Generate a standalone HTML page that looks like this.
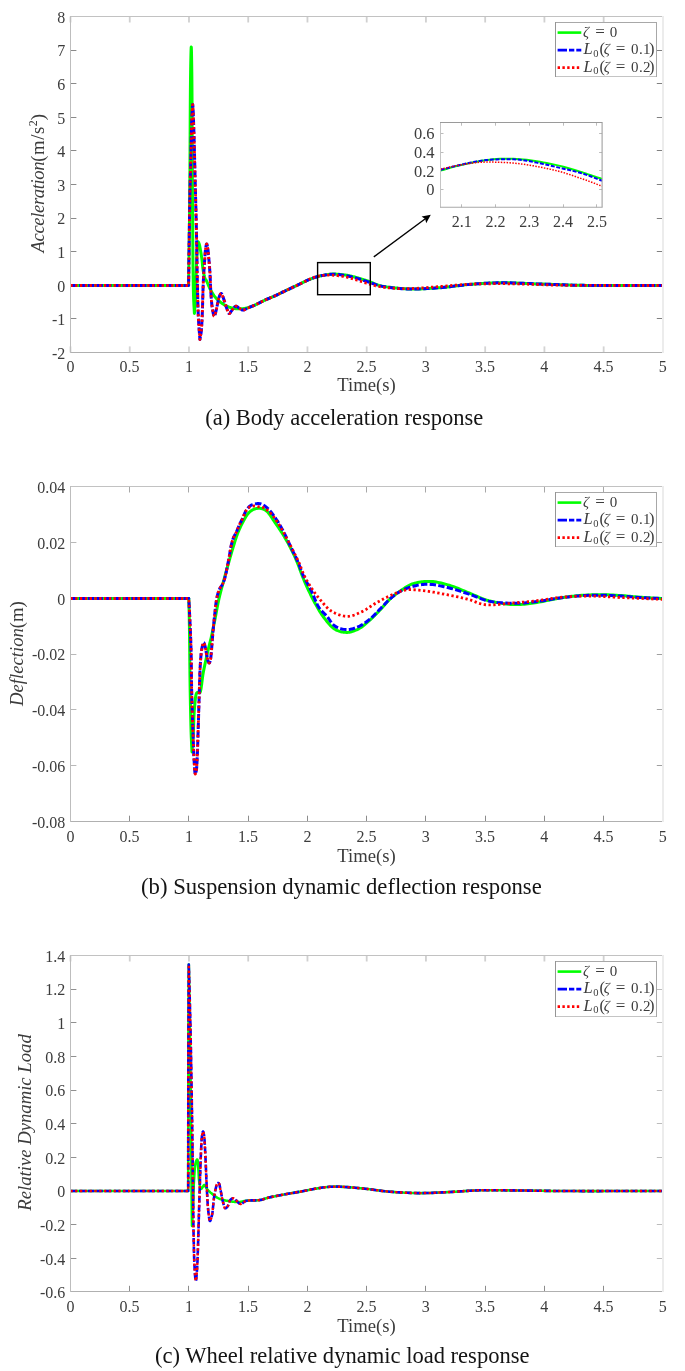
<!DOCTYPE html>
<html><head><meta charset="utf-8"><style>
html,body{margin:0;padding:0;background:#fff;width:685px;height:1371px;overflow:hidden}
svg{display:block;will-change:transform;filter:blur(0.35px)}
</style></head><body>
<svg width="685" height="1371" viewBox="0 0 685 1371">
<rect width="685" height="1371" fill="#fff"/>
<line x1="70.5" y1="346.4" x2="70.5" y2="352.4" stroke="#d4d4d4" stroke-width="1.8"/>
<line x1="70.5" y1="16.5" x2="70.5" y2="22.5" stroke="#d0d0d0" stroke-width="1.8"/>
<line x1="129.74" y1="346.4" x2="129.74" y2="352.4" stroke="#d4d4d4" stroke-width="1.8"/>
<line x1="129.74" y1="16.5" x2="129.74" y2="22.5" stroke="#d0d0d0" stroke-width="1.8"/>
<line x1="188.98" y1="346.4" x2="188.98" y2="352.4" stroke="#d4d4d4" stroke-width="1.8"/>
<line x1="188.98" y1="16.5" x2="188.98" y2="22.5" stroke="#d0d0d0" stroke-width="1.8"/>
<line x1="248.22" y1="346.4" x2="248.22" y2="352.4" stroke="#d4d4d4" stroke-width="1.8"/>
<line x1="248.22" y1="16.5" x2="248.22" y2="22.5" stroke="#d0d0d0" stroke-width="1.8"/>
<line x1="307.46" y1="346.4" x2="307.46" y2="352.4" stroke="#d4d4d4" stroke-width="1.8"/>
<line x1="307.46" y1="16.5" x2="307.46" y2="22.5" stroke="#d0d0d0" stroke-width="1.8"/>
<line x1="366.7" y1="346.4" x2="366.7" y2="352.4" stroke="#d4d4d4" stroke-width="1.8"/>
<line x1="366.7" y1="16.5" x2="366.7" y2="22.5" stroke="#d0d0d0" stroke-width="1.8"/>
<line x1="425.94" y1="346.4" x2="425.94" y2="352.4" stroke="#d4d4d4" stroke-width="1.8"/>
<line x1="425.94" y1="16.5" x2="425.94" y2="22.5" stroke="#d0d0d0" stroke-width="1.8"/>
<line x1="485.18" y1="346.4" x2="485.18" y2="352.4" stroke="#d4d4d4" stroke-width="1.8"/>
<line x1="485.18" y1="16.5" x2="485.18" y2="22.5" stroke="#d0d0d0" stroke-width="1.8"/>
<line x1="544.42" y1="346.4" x2="544.42" y2="352.4" stroke="#d4d4d4" stroke-width="1.8"/>
<line x1="544.42" y1="16.5" x2="544.42" y2="22.5" stroke="#d0d0d0" stroke-width="1.8"/>
<line x1="603.66" y1="346.4" x2="603.66" y2="352.4" stroke="#d4d4d4" stroke-width="1.8"/>
<line x1="603.66" y1="16.5" x2="603.66" y2="22.5" stroke="#d0d0d0" stroke-width="1.8"/>
<line x1="662.9" y1="346.4" x2="662.9" y2="352.4" stroke="#d4d4d4" stroke-width="1.8"/>
<line x1="662.9" y1="16.5" x2="662.9" y2="22.5" stroke="#d0d0d0" stroke-width="1.8"/>
<line x1="70.4" y1="16.5" x2="76.4" y2="16.5" stroke="#8a8a8a" stroke-width="1"/>
<line x1="656.8" y1="16.5" x2="662.8" y2="16.5" stroke="#808080" stroke-width="1"/>
<line x1="70.4" y1="50.5" x2="76.4" y2="50.5" stroke="#8a8a8a" stroke-width="1"/>
<line x1="656.8" y1="50.5" x2="662.8" y2="50.5" stroke="#808080" stroke-width="1"/>
<line x1="70.4" y1="83.5" x2="76.4" y2="83.5" stroke="#8a8a8a" stroke-width="1"/>
<line x1="656.8" y1="83.5" x2="662.8" y2="83.5" stroke="#808080" stroke-width="1"/>
<line x1="70.4" y1="117.5" x2="76.4" y2="117.5" stroke="#8a8a8a" stroke-width="1"/>
<line x1="656.8" y1="117.5" x2="662.8" y2="117.5" stroke="#808080" stroke-width="1"/>
<line x1="70.4" y1="150.5" x2="76.4" y2="150.5" stroke="#8a8a8a" stroke-width="1"/>
<line x1="656.8" y1="150.5" x2="662.8" y2="150.5" stroke="#808080" stroke-width="1"/>
<line x1="70.4" y1="184.5" x2="76.4" y2="184.5" stroke="#8a8a8a" stroke-width="1"/>
<line x1="656.8" y1="184.5" x2="662.8" y2="184.5" stroke="#808080" stroke-width="1"/>
<line x1="70.4" y1="218.5" x2="76.4" y2="218.5" stroke="#8a8a8a" stroke-width="1"/>
<line x1="656.8" y1="218.5" x2="662.8" y2="218.5" stroke="#808080" stroke-width="1"/>
<line x1="70.4" y1="251.5" x2="76.4" y2="251.5" stroke="#8a8a8a" stroke-width="1"/>
<line x1="656.8" y1="251.5" x2="662.8" y2="251.5" stroke="#808080" stroke-width="1"/>
<line x1="70.4" y1="285.5" x2="76.4" y2="285.5" stroke="#8a8a8a" stroke-width="1"/>
<line x1="656.8" y1="285.5" x2="662.8" y2="285.5" stroke="#808080" stroke-width="1"/>
<line x1="70.4" y1="318.5" x2="76.4" y2="318.5" stroke="#8a8a8a" stroke-width="1"/>
<line x1="656.8" y1="318.5" x2="662.8" y2="318.5" stroke="#808080" stroke-width="1"/>
<line x1="70.4" y1="352.5" x2="76.4" y2="352.5" stroke="#8a8a8a" stroke-width="1"/>
<line x1="656.8" y1="352.5" x2="662.8" y2="352.5" stroke="#808080" stroke-width="1"/>
<path d="M70.40 285.50 L188.60 285.50 L188.69 278.43 L188.79 271.45 L188.88 264.53 L188.98 257.64 L189.07 250.75 L189.17 243.82 L189.26 236.84 L189.36 229.77 L189.45 222.58 L189.54 215.25 L189.62 207.73 L189.70 200.00 L189.79 189.92 L189.87 179.01 L189.94 167.49 L190.01 155.57 L190.07 143.47 L190.13 131.42 L190.19 119.61 L190.26 108.28 L190.33 97.64 L190.41 87.90 L190.50 79.28 L190.60 72.00 L190.65 69.08 L190.70 66.13 L190.75 63.22 L190.81 60.38 L190.86 57.68 L190.92 55.16 L190.98 52.89 L191.04 50.91 L191.09 49.28 L191.15 48.05 L191.20 47.27 L191.25 47.00 L191.30 47.27 L191.35 48.05 L191.40 49.28 L191.45 50.91 L191.49 52.89 L191.54 55.17 L191.59 57.68 L191.63 60.38 L191.68 63.22 L191.72 66.13 L191.76 69.08 L191.80 72.00 L191.88 79.26 L191.95 87.82 L192.02 97.48 L192.07 108.03 L192.12 119.27 L192.17 131.00 L192.21 143.00 L192.26 155.07 L192.31 167.02 L192.36 178.62 L192.43 189.68 L192.50 200.00 L192.57 208.65 L192.63 217.50 L192.69 226.47 L192.75 235.44 L192.82 244.32 L192.89 252.99 L192.96 261.36 L193.05 269.31 L193.14 276.76 L193.25 283.59 L193.37 289.71 L193.50 295.00 L193.57 297.04 L193.63 298.91 L193.71 300.63 L193.78 302.23 L193.86 303.73 L193.93 305.15 L194.01 306.52 L194.09 307.87 L194.17 309.21 L194.25 310.58 L194.32 312.00 L194.40 313.50 L194.48 312.39 L194.57 311.32 L194.66 310.26 L194.74 309.21 L194.83 308.17 L194.92 307.11 L195.00 306.03 L195.09 304.93 L195.17 303.78 L195.25 302.58 L195.33 301.33 L195.40 300.00 L195.51 297.78 L195.60 295.35 L195.69 292.74 L195.78 290.00 L195.86 287.17 L195.94 284.28 L196.01 281.37 L196.09 278.49 L196.16 275.68 L196.24 272.96 L196.32 270.39 L196.40 268.00 L196.46 266.30 L196.52 264.62 L196.58 262.97 L196.64 261.36 L196.70 259.78 L196.76 258.24 L196.82 256.74 L196.88 255.29 L196.95 253.89 L197.03 252.53 L197.11 251.24 L197.20 250.00 L197.26 249.15 L197.32 248.26 L197.37 247.35 L197.43 246.44 L197.48 245.55 L197.54 244.71 L197.61 243.93 L197.68 243.24 L197.77 242.66 L197.86 242.21 L197.97 241.92 L198.10 241.80 L198.18 241.81 L198.26 241.88 L198.35 241.98 L198.44 242.13 L198.54 242.30 L198.63 242.51 L198.73 242.73 L198.83 242.98 L198.93 243.23 L199.02 243.49 L199.11 243.75 L199.20 244.00 L199.35 244.49 L199.50 245.03 L199.65 245.64 L199.79 246.28 L199.92 246.97 L200.06 247.68 L200.19 248.40 L200.32 249.14 L200.44 249.88 L200.56 250.61 L200.68 251.32 L200.80 252.00 L200.91 252.66 L201.03 253.32 L201.13 253.98 L201.24 254.64 L201.34 255.30 L201.44 255.96 L201.54 256.62 L201.63 257.28 L201.73 257.95 L201.82 258.63 L201.91 259.31 L202.00 260.00 L202.09 260.76 L202.17 261.53 L202.25 262.32 L202.32 263.11 L202.39 263.91 L202.46 264.71 L202.54 265.51 L202.61 266.30 L202.70 267.09 L202.79 267.88 L202.89 268.65 L203.00 269.40 L203.11 270.09 L203.23 270.79 L203.34 271.49 L203.46 272.18 L203.59 272.87 L203.72 273.56 L203.86 274.23 L204.01 274.88 L204.17 275.52 L204.34 276.14 L204.51 276.73 L204.70 277.30 L204.86 277.72 L205.02 278.11 L205.19 278.48 L205.36 278.83 L205.54 279.17 L205.73 279.51 L205.92 279.85 L206.11 280.19 L206.31 280.54 L206.50 280.91 L206.70 281.29 L206.90 281.70 L207.17 282.28 L207.43 282.89 L207.70 283.53 L207.98 284.19 L208.26 284.86 L208.55 285.55 L208.84 286.24 L209.13 286.94 L209.44 287.62 L209.75 288.30 L210.07 288.96 L210.40 289.60 L210.73 290.21 L211.06 290.83 L211.41 291.44 L211.75 292.04 L212.11 292.65 L212.47 293.24 L212.84 293.83 L213.21 294.41 L213.60 294.97 L213.99 295.53 L214.39 296.07 L214.80 296.60 L215.19 297.08 L215.59 297.56 L216.00 298.02 L216.41 298.47 L216.83 298.91 L217.25 299.35 L217.69 299.77 L218.13 300.19 L218.58 300.60 L219.04 301.01 L219.52 301.41 L220.00 301.80 L220.53 302.21 L221.07 302.62 L221.63 303.03 L222.20 303.43 L222.79 303.82 L223.38 304.20 L223.97 304.58 L224.58 304.93 L225.18 305.28 L225.79 305.60 L226.40 305.91 L227.00 306.20 L227.57 306.46 L228.14 306.70 L228.72 306.93 L229.30 307.14 L229.88 307.34 L230.47 307.53 L231.05 307.71 L231.64 307.87 L232.23 308.02 L232.82 308.16 L233.41 308.29 L234.00 308.40 L234.58 308.50 L235.16 308.58 L235.75 308.66 L236.33 308.72 L236.92 308.76 L237.51 308.80 L238.10 308.82 L238.68 308.84 L239.27 308.84 L239.85 308.84 L240.43 308.82 L241.00 308.80 L241.55 308.77 L242.10 308.73 L242.64 308.68 L243.18 308.62 L243.71 308.55 L244.25 308.48 L244.79 308.39 L245.32 308.29 L245.86 308.18 L246.40 308.07 L246.95 307.94 L247.50 307.80 L248.11 307.63 L248.72 307.45 L249.33 307.25 L249.94 307.04 L250.56 306.82 L251.17 306.59 L251.79 306.34 L252.42 306.09 L253.05 305.83 L253.69 305.56 L254.34 305.28 L255.00 305.00 L255.79 304.65 L256.59 304.28 L257.41 303.88 L258.24 303.47 L259.07 303.05 L259.91 302.62 L260.76 302.19 L261.61 301.76 L262.46 301.33 L263.31 300.90 L264.16 300.49 L265.00 300.10 L265.83 299.72 L266.66 299.36 L267.49 299.00 L268.33 298.64 L269.16 298.29 L270.00 297.94 L270.83 297.60 L271.67 297.25 L272.50 296.89 L273.34 296.54 L274.17 296.17 L275.00 295.80 L275.84 295.42 L276.67 295.03 L277.51 294.63 L278.34 294.23 L279.17 293.83 L280.00 293.42 L280.84 293.02 L281.67 292.61 L282.50 292.20 L283.33 291.80 L284.17 291.40 L285.00 291.00 L285.83 290.61 L286.67 290.21 L287.50 289.82 L288.33 289.43 L289.17 289.04 L290.00 288.65 L290.83 288.26 L291.67 287.87 L292.50 287.48 L293.33 287.09 L294.17 286.69 L295.00 286.30 L295.84 285.90 L296.69 285.49 L297.55 285.08 L298.41 284.66 L299.27 284.24 L300.13 283.82 L300.98 283.41 L301.82 283.00 L302.64 282.61 L303.45 282.22 L304.24 281.85 L305.00 281.50 L305.59 281.23 L306.16 280.96 L306.72 280.70 L307.26 280.45 L307.79 280.20 L308.32 279.96 L308.85 279.73 L309.38 279.50 L309.91 279.27 L310.46 279.04 L311.02 278.82 L311.60 278.60 L312.25 278.36 L312.91 278.12 L313.57 277.88 L314.24 277.65 L314.92 277.42 L315.61 277.20 L316.31 276.99 L317.02 276.77 L317.74 276.57 L318.48 276.37 L319.23 276.18 L320.00 276.00 L320.95 275.79 L321.94 275.57 L322.96 275.36 L324.00 275.16 L325.06 274.97 L326.13 274.79 L327.22 274.62 L328.30 274.47 L329.39 274.34 L330.47 274.24 L331.54 274.16 L332.60 274.10 L333.64 274.07 L334.70 274.07 L335.76 274.10 L336.82 274.15 L337.89 274.21 L338.95 274.29 L340.00 274.39 L341.04 274.50 L342.06 274.62 L343.07 274.74 L344.05 274.87 L345.00 275.00 L345.78 275.11 L346.52 275.23 L347.24 275.35 L347.95 275.48 L348.64 275.62 L349.33 275.76 L350.02 275.91 L350.72 276.07 L351.43 276.24 L352.16 276.41 L352.91 276.60 L353.70 276.80 L354.76 277.07 L355.86 277.37 L357.00 277.68 L358.17 278.02 L359.36 278.37 L360.57 278.73 L361.78 279.09 L362.99 279.47 L364.20 279.85 L365.39 280.24 L366.56 280.62 L367.70 281.00 L368.75 281.37 L369.77 281.76 L370.76 282.16 L371.74 282.57 L372.72 282.98 L373.70 283.39 L374.68 283.80 L375.68 284.20 L376.71 284.58 L377.76 284.95 L378.86 285.29 L380.00 285.60 L381.49 285.95 L383.06 286.28 L384.70 286.58 L386.38 286.86 L388.10 287.11 L389.85 287.34 L391.60 287.56 L393.35 287.75 L395.07 287.93 L396.77 288.10 L398.41 288.26 L400.00 288.40 L401.31 288.51 L402.58 288.61 L403.81 288.70 L405.01 288.78 L406.20 288.84 L407.39 288.89 L408.59 288.93 L409.80 288.97 L411.03 288.99 L412.30 289.00 L413.62 289.00 L415.00 289.00 L416.85 288.98 L418.77 288.94 L420.75 288.88 L422.78 288.80 L424.85 288.71 L426.97 288.60 L429.11 288.48 L431.27 288.34 L433.45 288.19 L435.63 288.04 L437.82 287.87 L440.00 287.70 L442.41 287.49 L444.84 287.24 L447.31 286.97 L449.80 286.68 L452.31 286.38 L454.83 286.07 L457.36 285.75 L459.90 285.45 L462.43 285.15 L464.97 284.87 L467.49 284.62 L470.00 284.40 L472.48 284.20 L474.95 284.01 L477.39 283.82 L479.83 283.65 L482.28 283.49 L484.73 283.34 L487.19 283.21 L489.68 283.09 L492.19 282.99 L494.75 282.91 L497.35 282.84 L500.00 282.80 L503.13 282.79 L506.33 282.81 L509.60 282.87 L512.91 282.95 L516.26 283.06 L519.64 283.19 L523.04 283.33 L526.45 283.47 L529.87 283.62 L533.27 283.76 L536.65 283.89 L540.00 284.00 L543.33 284.11 L546.67 284.22 L550.00 284.34 L553.33 284.47 L556.67 284.59 L560.00 284.71 L563.33 284.83 L566.67 284.94 L570.00 285.05 L573.33 285.15 L576.67 285.23 L580.00 285.30 L583.33 285.36 L586.65 285.40 L589.97 285.43 L593.28 285.46 L596.60 285.47 L599.91 285.48 L603.24 285.49 L606.57 285.49 L609.90 285.49 L613.25 285.49 L616.62 285.49 L620.00 285.50 L623.52 285.51 L627.05 285.51 L630.60 285.51 L634.16 285.52 L637.73 285.51 L641.31 285.51 L644.89 285.51 L648.48 285.51 L652.07 285.50 L655.65 285.50 L659.23 285.50 L662.80 285.50" fill="none" stroke="#00ff00" stroke-width="3.00" stroke-linejoin="round"/>
<path d="M70.40 285.50 L188.60 285.50 L188.65 281.72 L188.70 277.94 L188.75 274.18 L188.79 270.41 L188.84 266.65 L188.89 262.88 L188.94 259.11 L188.99 255.33 L189.04 251.53 L189.09 247.71 L189.14 243.87 L189.20 240.00 L189.26 235.88 L189.32 231.66 L189.38 227.37 L189.44 223.04 L189.51 218.69 L189.57 214.35 L189.64 210.05 L189.71 205.81 L189.78 201.66 L189.85 197.63 L189.92 193.73 L190.00 190.00 L190.06 187.24 L190.12 184.58 L190.19 182.01 L190.26 179.50 L190.32 177.05 L190.39 174.64 L190.46 172.25 L190.53 169.86 L190.60 167.45 L190.67 165.02 L190.73 162.54 L190.80 160.00 L190.87 157.22 L190.93 154.37 L190.99 151.47 L191.05 148.53 L191.10 145.59 L191.16 142.64 L191.22 139.72 L191.29 136.83 L191.36 134.00 L191.43 131.24 L191.51 128.57 L191.60 126.00 L191.68 123.91 L191.76 121.65 L191.85 119.30 L191.94 116.91 L192.03 114.57 L192.13 112.32 L192.23 110.23 L192.32 108.38 L192.42 106.82 L192.52 105.63 L192.61 104.87 L192.70 104.60 L192.79 104.90 L192.89 105.75 L192.98 107.09 L193.08 108.83 L193.17 110.92 L193.27 113.27 L193.36 115.82 L193.45 118.49 L193.54 121.22 L193.63 123.92 L193.72 126.54 L193.80 129.00 L193.91 132.31 L194.02 135.78 L194.12 139.39 L194.22 143.11 L194.32 146.93 L194.42 150.84 L194.51 154.81 L194.61 158.83 L194.70 162.87 L194.80 166.93 L194.90 170.98 L195.00 175.00 L195.11 179.42 L195.23 183.91 L195.35 188.47 L195.48 193.07 L195.60 197.70 L195.72 202.36 L195.85 207.02 L195.96 211.68 L196.08 216.32 L196.19 220.93 L196.30 225.49 L196.40 230.00 L196.49 234.27 L196.57 238.55 L196.65 242.83 L196.72 247.10 L196.79 251.35 L196.85 255.58 L196.92 259.77 L196.99 263.93 L197.06 268.04 L197.13 272.09 L197.21 276.08 L197.30 280.00 L197.38 283.38 L197.45 286.76 L197.53 290.12 L197.61 293.45 L197.69 296.75 L197.77 300.00 L197.85 303.19 L197.95 306.32 L198.05 309.38 L198.15 312.35 L198.27 315.23 L198.40 318.00 L198.50 320.01 L198.62 321.94 L198.73 323.80 L198.86 325.62 L198.98 327.39 L199.11 329.13 L199.25 330.85 L199.38 332.56 L199.51 334.27 L199.64 335.99 L199.77 337.73 L199.90 339.50 L200.01 338.88 L200.12 338.28 L200.24 337.68 L200.35 337.09 L200.47 336.50 L200.58 335.90 L200.70 335.29 L200.81 334.68 L200.91 334.04 L201.01 333.39 L201.11 332.71 L201.20 332.00 L201.31 331.01 L201.41 330.00 L201.50 328.97 L201.58 327.91 L201.65 326.83 L201.72 325.70 L201.78 324.54 L201.84 323.34 L201.90 322.09 L201.97 320.78 L202.03 319.42 L202.10 318.00 L202.21 315.45 L202.32 312.60 L202.43 309.52 L202.53 306.26 L202.63 302.87 L202.73 299.41 L202.83 295.92 L202.93 292.46 L203.04 289.08 L203.15 285.85 L203.27 282.80 L203.40 280.00 L203.50 278.09 L203.60 276.24 L203.70 274.43 L203.81 272.67 L203.92 270.96 L204.03 269.28 L204.14 267.65 L204.26 266.05 L204.37 264.49 L204.48 262.96 L204.59 261.47 L204.70 260.00 L204.78 258.87 L204.86 257.75 L204.93 256.63 L205.00 255.53 L205.07 254.45 L205.14 253.40 L205.22 252.38 L205.30 251.40 L205.39 250.47 L205.48 249.59 L205.59 248.76 L205.70 248.00 L205.77 247.56 L205.85 247.11 L205.93 246.66 L206.01 246.21 L206.09 245.77 L206.18 245.36 L206.27 244.99 L206.36 244.66 L206.44 244.39 L206.53 244.18 L206.62 244.05 L206.70 244.00 L206.78 244.05 L206.87 244.19 L206.96 244.40 L207.04 244.68 L207.13 245.02 L207.22 245.41 L207.30 245.82 L207.39 246.26 L207.47 246.71 L207.55 247.15 L207.63 247.59 L207.70 248.00 L207.80 248.57 L207.88 249.17 L207.97 249.79 L208.04 250.43 L208.12 251.09 L208.19 251.77 L208.25 252.47 L208.32 253.19 L208.39 253.94 L208.45 254.70 L208.53 255.49 L208.60 256.30 L208.71 257.53 L208.83 258.84 L208.96 260.22 L209.08 261.65 L209.21 263.13 L209.33 264.64 L209.45 266.18 L209.57 267.73 L209.69 269.27 L209.80 270.81 L209.90 272.32 L210.00 273.80 L210.09 275.26 L210.16 276.72 L210.22 278.18 L210.28 279.65 L210.34 281.11 L210.39 282.58 L210.44 284.04 L210.50 285.50 L210.56 286.96 L210.63 288.41 L210.71 289.86 L210.80 291.30 L210.90 292.73 L210.99 294.18 L211.09 295.64 L211.19 297.12 L211.30 298.59 L211.41 300.05 L211.53 301.48 L211.66 302.89 L211.80 304.25 L211.95 305.56 L212.12 306.82 L212.30 308.00 L212.44 308.85 L212.59 309.75 L212.74 310.67 L212.90 311.60 L213.07 312.50 L213.24 313.37 L213.42 314.16 L213.60 314.86 L213.77 315.45 L213.95 315.90 L214.13 316.19 L214.30 316.30 L214.44 316.24 L214.58 316.05 L214.72 315.76 L214.87 315.37 L215.01 314.92 L215.16 314.40 L215.30 313.84 L215.45 313.26 L215.59 312.67 L215.73 312.08 L215.87 311.52 L216.00 311.00 L216.16 310.37 L216.32 309.72 L216.47 309.04 L216.62 308.34 L216.77 307.63 L216.92 306.91 L217.06 306.19 L217.21 305.47 L217.35 304.76 L217.50 304.05 L217.65 303.37 L217.80 302.70 L217.94 302.10 L218.07 301.50 L218.19 300.89 L218.32 300.28 L218.44 299.68 L218.57 299.08 L218.70 298.50 L218.84 297.94 L218.99 297.41 L219.15 296.90 L219.32 296.43 L219.50 296.00 L219.63 295.72 L219.77 295.43 L219.92 295.14 L220.07 294.85 L220.23 294.58 L220.38 294.32 L220.54 294.09 L220.70 293.88 L220.86 293.72 L221.01 293.59 L221.16 293.52 L221.30 293.50 L221.45 293.55 L221.60 293.69 L221.75 293.88 L221.90 294.14 L222.04 294.44 L222.18 294.77 L222.32 295.13 L222.46 295.51 L222.59 295.90 L222.73 296.28 L222.86 296.65 L223.00 297.00 L223.17 297.42 L223.33 297.86 L223.49 298.31 L223.65 298.78 L223.80 299.25 L223.96 299.74 L224.11 300.23 L224.27 300.72 L224.42 301.22 L224.58 301.72 L224.74 302.21 L224.90 302.70 L225.07 303.22 L225.24 303.74 L225.41 304.28 L225.58 304.82 L225.75 305.36 L225.92 305.90 L226.09 306.44 L226.26 306.97 L226.44 307.50 L226.62 308.01 L226.81 308.51 L227.00 309.00 L227.17 309.44 L227.34 309.92 L227.52 310.41 L227.70 310.91 L227.88 311.41 L228.06 311.89 L228.25 312.34 L228.43 312.73 L228.62 313.07 L228.81 313.34 L229.01 313.52 L229.20 313.60 L229.34 313.59 L229.49 313.52 L229.64 313.40 L229.79 313.25 L229.94 313.06 L230.10 312.85 L230.25 312.62 L230.40 312.38 L230.55 312.14 L230.70 311.91 L230.85 311.69 L231.00 311.50 L231.14 311.32 L231.28 311.14 L231.42 310.96 L231.55 310.78 L231.68 310.60 L231.81 310.42 L231.95 310.24 L232.09 310.05 L232.23 309.87 L232.38 309.68 L232.53 309.49 L232.70 309.30 L232.92 309.04 L233.15 308.74 L233.39 308.43 L233.64 308.10 L233.89 307.77 L234.16 307.44 L234.42 307.14 L234.70 306.86 L234.97 306.61 L235.25 306.41 L235.52 306.27 L235.80 306.20 L236.05 306.19 L236.31 306.24 L236.57 306.34 L236.83 306.47 L237.09 306.63 L237.36 306.82 L237.63 307.02 L237.90 307.23 L238.17 307.44 L238.45 307.64 L238.72 307.83 L239.00 308.00 L239.30 308.18 L239.61 308.38 L239.91 308.60 L240.22 308.83 L240.53 309.05 L240.85 309.27 L241.16 309.48 L241.48 309.67 L241.81 309.83 L242.13 309.96 L242.46 310.05 L242.80 310.10 L243.17 310.10 L243.54 310.04 L243.91 309.94 L244.28 309.81 L244.66 309.64 L245.04 309.46 L245.43 309.25 L245.83 309.03 L246.24 308.82 L246.65 308.60 L247.07 308.39 L247.50 308.20 L248.06 307.97 L248.64 307.73 L249.23 307.48 L249.84 307.23 L250.45 306.98 L251.08 306.71 L251.72 306.44 L252.36 306.17 L253.02 305.89 L253.67 305.60 L254.34 305.30 L255.00 305.00 L255.79 304.63 L256.59 304.25 L257.40 303.85 L258.23 303.44 L259.07 303.02 L259.91 302.59 L260.76 302.17 L261.61 301.74 L262.46 301.32 L263.31 300.90 L264.16 300.49 L265.00 300.10 L265.83 299.72 L266.66 299.36 L267.49 299.00 L268.33 298.64 L269.16 298.29 L270.00 297.94 L270.83 297.60 L271.67 297.25 L272.50 296.89 L273.34 296.54 L274.17 296.17 L275.00 295.80 L275.84 295.42 L276.67 295.03 L277.51 294.63 L278.34 294.23 L279.17 293.83 L280.00 293.42 L280.84 293.02 L281.67 292.61 L282.50 292.20 L283.33 291.80 L284.17 291.40 L285.00 291.00 L285.83 290.61 L286.67 290.21 L287.50 289.82 L288.33 289.43 L289.17 289.04 L290.00 288.65 L290.83 288.26 L291.67 287.87 L292.50 287.48 L293.33 287.09 L294.17 286.69 L295.00 286.30 L295.84 285.90 L296.69 285.49 L297.55 285.08 L298.41 284.66 L299.27 284.24 L300.13 283.82 L300.98 283.41 L301.82 283.00 L302.64 282.61 L303.45 282.22 L304.24 281.85 L305.00 281.50 L305.59 281.23 L306.16 280.96 L306.72 280.70 L307.26 280.45 L307.79 280.20 L308.32 279.96 L308.85 279.73 L309.38 279.50 L309.91 279.27 L310.46 279.04 L311.02 278.82 L311.60 278.60 L312.25 278.36 L312.91 278.12 L313.57 277.88 L314.24 277.65 L314.92 277.42 L315.61 277.20 L316.31 276.98 L317.02 276.77 L317.74 276.56 L318.48 276.37 L319.23 276.18 L320.00 276.00 L320.95 275.79 L321.94 275.58 L322.96 275.37 L324.00 275.18 L325.06 274.99 L326.13 274.81 L327.22 274.65 L328.30 274.51 L329.39 274.40 L330.47 274.30 L331.54 274.24 L332.60 274.20 L333.64 274.20 L334.70 274.23 L335.76 274.29 L336.82 274.37 L337.89 274.47 L338.95 274.59 L340.00 274.73 L341.04 274.88 L342.06 275.03 L343.07 275.19 L344.05 275.35 L345.00 275.50 L345.78 275.63 L346.52 275.76 L347.24 275.89 L347.95 276.03 L348.64 276.18 L349.33 276.32 L350.02 276.48 L350.72 276.65 L351.43 276.82 L352.16 277.00 L352.91 277.19 L353.70 277.40 L354.76 277.68 L355.86 277.99 L357.00 278.33 L358.17 278.68 L359.36 279.04 L360.56 279.42 L361.77 279.80 L362.99 280.18 L364.19 280.57 L365.38 280.96 L366.56 281.33 L367.70 281.70 L368.74 282.05 L369.76 282.40 L370.76 282.76 L371.74 283.12 L372.72 283.49 L373.70 283.85 L374.68 284.21 L375.69 284.55 L376.71 284.89 L377.77 285.21 L378.86 285.52 L380.00 285.80 L381.49 286.13 L383.07 286.44 L384.70 286.74 L386.39 287.02 L388.11 287.28 L389.85 287.52 L391.60 287.74 L393.35 287.95 L395.08 288.14 L396.77 288.31 L398.41 288.46 L400.00 288.60 L401.31 288.70 L402.58 288.79 L403.81 288.86 L405.01 288.92 L406.20 288.96 L407.39 288.99 L408.59 289.01 L409.80 289.03 L411.03 289.03 L412.30 289.03 L413.62 289.02 L415.00 289.00 L416.85 288.97 L418.77 288.92 L420.75 288.86 L422.78 288.78 L424.86 288.69 L426.97 288.58 L429.11 288.46 L431.27 288.33 L433.45 288.19 L435.63 288.03 L437.82 287.87 L440.00 287.70 L442.41 287.49 L444.84 287.24 L447.31 286.97 L449.80 286.68 L452.31 286.38 L454.83 286.07 L457.36 285.75 L459.90 285.45 L462.43 285.15 L464.97 284.87 L467.49 284.62 L470.00 284.40 L472.48 284.20 L474.95 284.01 L477.39 283.82 L479.83 283.65 L482.28 283.49 L484.73 283.34 L487.19 283.21 L489.68 283.09 L492.19 282.99 L494.75 282.91 L497.35 282.84 L500.00 282.80 L503.13 282.79 L506.33 282.81 L509.60 282.87 L512.91 282.95 L516.26 283.06 L519.64 283.19 L523.04 283.33 L526.45 283.47 L529.87 283.62 L533.27 283.76 L536.65 283.89 L540.00 284.00 L543.33 284.11 L546.67 284.22 L550.00 284.34 L553.33 284.47 L556.67 284.59 L560.00 284.71 L563.33 284.83 L566.67 284.94 L570.00 285.05 L573.33 285.15 L576.67 285.23 L580.00 285.30 L583.33 285.36 L586.65 285.40 L589.97 285.43 L593.28 285.46 L596.60 285.47 L599.91 285.48 L603.24 285.49 L606.57 285.49 L609.90 285.49 L613.25 285.49 L616.62 285.49 L620.00 285.50 L623.52 285.51 L627.05 285.51 L630.60 285.51 L634.16 285.52 L637.73 285.51 L641.31 285.51 L644.89 285.51 L648.48 285.51 L652.07 285.50 L655.65 285.50 L659.23 285.50 L662.80 285.50" fill="none" stroke="#0000ff" stroke-width="3.00" stroke-dasharray="6.4 2.3" stroke-linejoin="round"/>
<path d="M70.40 285.50 L188.60 285.50 L188.65 281.72 L188.70 277.94 L188.75 274.18 L188.79 270.41 L188.84 266.65 L188.89 262.88 L188.94 259.11 L188.99 255.33 L189.04 251.53 L189.09 247.71 L189.14 243.87 L189.20 240.00 L189.26 235.88 L189.32 231.66 L189.38 227.37 L189.44 223.04 L189.51 218.69 L189.57 214.35 L189.64 210.05 L189.71 205.81 L189.78 201.66 L189.85 197.63 L189.92 193.73 L190.00 190.00 L190.06 187.24 L190.12 184.58 L190.19 182.01 L190.26 179.50 L190.32 177.05 L190.39 174.64 L190.46 172.25 L190.53 169.86 L190.60 167.45 L190.67 165.02 L190.73 162.54 L190.80 160.00 L190.87 157.22 L190.93 154.37 L190.99 151.47 L191.05 148.53 L191.10 145.59 L191.16 142.64 L191.22 139.72 L191.29 136.83 L191.36 134.00 L191.43 131.24 L191.51 128.57 L191.60 126.00 L191.68 123.91 L191.76 121.65 L191.85 119.30 L191.94 116.91 L192.03 114.57 L192.13 112.32 L192.23 110.23 L192.32 108.38 L192.42 106.82 L192.52 105.63 L192.61 104.87 L192.70 104.60 L192.79 104.90 L192.89 105.75 L192.98 107.09 L193.08 108.83 L193.17 110.92 L193.27 113.27 L193.36 115.82 L193.45 118.49 L193.54 121.22 L193.63 123.92 L193.72 126.54 L193.80 129.00 L193.91 132.31 L194.02 135.78 L194.12 139.39 L194.22 143.11 L194.32 146.93 L194.42 150.84 L194.51 154.81 L194.61 158.83 L194.70 162.87 L194.80 166.93 L194.90 170.98 L195.00 175.00 L195.11 179.42 L195.23 183.91 L195.35 188.47 L195.48 193.07 L195.60 197.70 L195.72 202.36 L195.85 207.02 L195.96 211.68 L196.08 216.32 L196.19 220.93 L196.30 225.49 L196.40 230.00 L196.49 234.27 L196.57 238.55 L196.65 242.83 L196.72 247.10 L196.79 251.35 L196.85 255.58 L196.92 259.77 L196.99 263.93 L197.06 268.04 L197.13 272.09 L197.21 276.08 L197.30 280.00 L197.38 283.38 L197.45 286.76 L197.53 290.12 L197.61 293.45 L197.69 296.75 L197.77 300.00 L197.85 303.19 L197.95 306.32 L198.05 309.38 L198.15 312.35 L198.27 315.23 L198.40 318.00 L198.50 320.01 L198.62 321.94 L198.73 323.80 L198.86 325.62 L198.98 327.39 L199.11 329.13 L199.25 330.85 L199.38 332.56 L199.51 334.27 L199.64 335.99 L199.77 337.73 L199.90 339.50 L200.01 338.88 L200.12 338.28 L200.24 337.68 L200.35 337.09 L200.47 336.50 L200.58 335.90 L200.70 335.29 L200.81 334.68 L200.91 334.04 L201.01 333.39 L201.11 332.71 L201.20 332.00 L201.31 331.01 L201.41 330.00 L201.50 328.97 L201.58 327.91 L201.65 326.83 L201.72 325.70 L201.78 324.54 L201.84 323.34 L201.90 322.09 L201.97 320.78 L202.03 319.42 L202.10 318.00 L202.21 315.45 L202.32 312.60 L202.43 309.52 L202.53 306.26 L202.63 302.87 L202.73 299.41 L202.83 295.92 L202.93 292.46 L203.04 289.08 L203.15 285.85 L203.27 282.80 L203.40 280.00 L203.50 278.09 L203.60 276.24 L203.70 274.43 L203.81 272.67 L203.92 270.96 L204.03 269.28 L204.14 267.65 L204.26 266.05 L204.37 264.49 L204.48 262.96 L204.59 261.47 L204.70 260.00 L204.78 258.87 L204.86 257.75 L204.93 256.63 L205.00 255.53 L205.07 254.45 L205.14 253.40 L205.22 252.38 L205.30 251.40 L205.39 250.47 L205.48 249.59 L205.59 248.76 L205.70 248.00 L205.77 247.56 L205.85 247.11 L205.93 246.66 L206.01 246.21 L206.09 245.77 L206.18 245.36 L206.27 244.99 L206.36 244.66 L206.44 244.39 L206.53 244.18 L206.62 244.05 L206.70 244.00 L206.78 244.05 L206.87 244.19 L206.96 244.40 L207.04 244.68 L207.13 245.02 L207.22 245.41 L207.30 245.82 L207.39 246.26 L207.47 246.71 L207.55 247.15 L207.63 247.59 L207.70 248.00 L207.80 248.57 L207.88 249.17 L207.97 249.79 L208.04 250.43 L208.12 251.09 L208.19 251.77 L208.25 252.47 L208.32 253.19 L208.39 253.94 L208.45 254.70 L208.53 255.49 L208.60 256.30 L208.71 257.53 L208.83 258.84 L208.96 260.22 L209.08 261.65 L209.21 263.13 L209.33 264.64 L209.45 266.18 L209.57 267.73 L209.69 269.27 L209.80 270.81 L209.90 272.32 L210.00 273.80 L210.09 275.26 L210.16 276.72 L210.22 278.18 L210.28 279.65 L210.34 281.11 L210.39 282.58 L210.44 284.04 L210.50 285.50 L210.56 286.96 L210.63 288.41 L210.71 289.86 L210.80 291.30 L210.90 292.73 L210.99 294.18 L211.09 295.64 L211.19 297.12 L211.30 298.59 L211.41 300.05 L211.53 301.48 L211.66 302.89 L211.80 304.25 L211.95 305.56 L212.12 306.82 L212.30 308.00 L212.44 308.85 L212.59 309.75 L212.74 310.67 L212.90 311.60 L213.07 312.50 L213.24 313.37 L213.42 314.16 L213.60 314.86 L213.77 315.45 L213.95 315.90 L214.13 316.19 L214.30 316.30 L214.44 316.24 L214.58 316.05 L214.72 315.76 L214.87 315.37 L215.01 314.92 L215.16 314.40 L215.30 313.84 L215.45 313.26 L215.59 312.67 L215.73 312.08 L215.87 311.52 L216.00 311.00 L216.16 310.37 L216.32 309.72 L216.47 309.04 L216.62 308.34 L216.77 307.63 L216.92 306.91 L217.06 306.19 L217.21 305.47 L217.35 304.76 L217.50 304.05 L217.65 303.37 L217.80 302.70 L217.94 302.10 L218.07 301.50 L218.19 300.89 L218.32 300.28 L218.44 299.68 L218.57 299.08 L218.70 298.50 L218.84 297.94 L218.99 297.41 L219.15 296.90 L219.32 296.43 L219.50 296.00 L219.63 295.72 L219.77 295.43 L219.92 295.14 L220.07 294.85 L220.23 294.58 L220.38 294.32 L220.54 294.09 L220.70 293.88 L220.86 293.72 L221.01 293.59 L221.16 293.52 L221.30 293.50 L221.45 293.55 L221.60 293.69 L221.75 293.88 L221.90 294.14 L222.04 294.44 L222.18 294.77 L222.32 295.13 L222.46 295.51 L222.59 295.90 L222.73 296.28 L222.86 296.65 L223.00 297.00 L223.17 297.42 L223.33 297.86 L223.49 298.31 L223.65 298.78 L223.80 299.25 L223.96 299.74 L224.11 300.23 L224.27 300.72 L224.42 301.22 L224.58 301.72 L224.74 302.21 L224.90 302.70 L225.07 303.22 L225.24 303.74 L225.41 304.28 L225.58 304.82 L225.75 305.36 L225.92 305.90 L226.09 306.44 L226.26 306.97 L226.44 307.50 L226.62 308.01 L226.81 308.51 L227.00 309.00 L227.17 309.44 L227.34 309.92 L227.52 310.41 L227.70 310.91 L227.88 311.41 L228.06 311.89 L228.25 312.34 L228.43 312.73 L228.62 313.07 L228.81 313.34 L229.01 313.52 L229.20 313.60 L229.34 313.59 L229.49 313.52 L229.64 313.40 L229.79 313.25 L229.94 313.06 L230.10 312.85 L230.25 312.62 L230.40 312.38 L230.55 312.14 L230.70 311.91 L230.85 311.69 L231.00 311.50 L231.14 311.32 L231.28 311.14 L231.42 310.96 L231.55 310.78 L231.68 310.60 L231.81 310.42 L231.95 310.24 L232.09 310.05 L232.23 309.87 L232.38 309.68 L232.53 309.49 L232.70 309.30 L232.92 309.04 L233.15 308.74 L233.39 308.43 L233.64 308.10 L233.89 307.77 L234.16 307.44 L234.42 307.14 L234.70 306.86 L234.97 306.61 L235.25 306.41 L235.52 306.27 L235.80 306.20 L236.05 306.19 L236.31 306.24 L236.57 306.34 L236.83 306.47 L237.09 306.63 L237.36 306.82 L237.63 307.02 L237.90 307.23 L238.17 307.44 L238.45 307.64 L238.72 307.83 L239.00 308.00 L239.30 308.18 L239.61 308.38 L239.91 308.60 L240.22 308.83 L240.53 309.05 L240.85 309.27 L241.16 309.48 L241.48 309.67 L241.81 309.83 L242.13 309.96 L242.46 310.05 L242.80 310.10 L243.17 310.10 L243.54 310.04 L243.91 309.94 L244.28 309.81 L244.66 309.64 L245.04 309.46 L245.43 309.25 L245.83 309.03 L246.24 308.82 L246.65 308.60 L247.07 308.39 L247.50 308.20 L248.06 307.97 L248.64 307.73 L249.23 307.48 L249.84 307.23 L250.45 306.98 L251.08 306.71 L251.72 306.44 L252.36 306.17 L253.02 305.89 L253.67 305.60 L254.34 305.30 L255.00 305.00 L255.79 304.63 L256.59 304.25 L257.40 303.85 L258.23 303.44 L259.07 303.02 L259.91 302.59 L260.76 302.17 L261.61 301.74 L262.46 301.32 L263.31 300.90 L264.16 300.49 L265.00 300.10 L265.83 299.72 L266.66 299.36 L267.49 299.00 L268.33 298.64 L269.16 298.29 L270.00 297.94 L270.83 297.60 L271.67 297.25 L272.50 296.89 L273.34 296.54 L274.17 296.17 L275.00 295.80 L275.84 295.42 L276.67 295.03 L277.51 294.63 L278.34 294.23 L279.17 293.83 L280.00 293.42 L280.84 293.02 L281.67 292.61 L282.50 292.20 L283.33 291.80 L284.17 291.40 L285.00 291.00 L285.83 290.61 L286.67 290.21 L287.50 289.82 L288.33 289.43 L289.17 289.04 L290.00 288.65 L290.83 288.26 L291.67 287.87 L292.50 287.48 L293.33 287.09 L294.17 286.69 L295.00 286.30 L295.84 285.90 L296.69 285.50 L297.55 285.09 L298.41 284.68 L299.27 284.26 L300.13 283.85 L300.98 283.45 L301.82 283.04 L302.65 282.64 L303.46 282.25 L304.24 281.87 L305.00 281.50 L305.60 281.20 L306.18 280.90 L306.74 280.61 L307.29 280.31 L307.83 280.03 L308.36 279.74 L308.89 279.46 L309.42 279.19 L309.95 278.93 L310.49 278.67 L311.04 278.43 L311.60 278.20 L312.17 277.98 L312.74 277.77 L313.32 277.56 L313.90 277.37 L314.48 277.18 L315.07 277.00 L315.65 276.83 L316.24 276.67 L316.83 276.51 L317.42 276.37 L318.01 276.23 L318.60 276.10 L319.18 275.98 L319.76 275.87 L320.34 275.77 L320.92 275.68 L321.51 275.60 L322.09 275.52 L322.68 275.45 L323.26 275.39 L323.85 275.33 L324.43 275.28 L325.02 275.24 L325.60 275.20 L326.18 275.17 L326.77 275.14 L327.35 275.12 L327.93 275.11 L328.52 275.10 L329.10 275.10 L329.68 275.11 L330.27 275.12 L330.85 275.13 L331.43 275.15 L332.02 275.17 L332.60 275.20 L333.18 275.23 L333.77 275.27 L334.35 275.31 L334.94 275.36 L335.52 275.42 L336.10 275.48 L336.69 275.54 L337.27 275.60 L337.85 275.67 L338.44 275.75 L339.02 275.82 L339.60 275.90 L340.18 275.98 L340.77 276.06 L341.35 276.15 L341.94 276.24 L342.52 276.33 L343.10 276.42 L343.69 276.52 L344.27 276.63 L344.85 276.74 L345.44 276.85 L346.02 276.97 L346.60 277.10 L347.19 277.24 L347.79 277.39 L348.38 277.54 L348.97 277.70 L349.56 277.87 L350.16 278.04 L350.75 278.21 L351.34 278.39 L351.93 278.57 L352.52 278.75 L353.11 278.92 L353.70 279.10 L354.29 279.28 L354.87 279.45 L355.46 279.63 L356.04 279.81 L356.62 280.00 L357.21 280.18 L357.79 280.37 L358.37 280.55 L358.95 280.74 L359.54 280.93 L360.12 281.11 L360.70 281.30 L361.28 281.49 L361.84 281.68 L362.40 281.87 L362.96 282.06 L363.51 282.25 L364.07 282.44 L364.64 282.63 L365.22 282.83 L365.81 283.02 L366.41 283.21 L367.04 283.41 L367.70 283.60 L368.59 283.86 L369.51 284.13 L370.45 284.40 L371.42 284.68 L372.41 284.96 L373.43 285.23 L374.47 285.50 L375.53 285.77 L376.62 286.02 L377.72 286.26 L378.85 286.49 L380.00 286.70 L381.50 286.94 L383.07 287.17 L384.71 287.39 L386.40 287.58 L388.12 287.77 L389.86 287.93 L391.61 288.08 L393.36 288.22 L395.08 288.34 L396.77 288.44 L398.42 288.53 L400.00 288.60 L401.31 288.65 L402.58 288.68 L403.81 288.70 L405.02 288.70 L406.21 288.69 L407.40 288.68 L408.59 288.65 L409.80 288.61 L411.03 288.57 L412.31 288.52 L413.62 288.46 L415.00 288.40 L416.85 288.31 L418.77 288.19 L420.75 288.06 L422.78 287.91 L424.85 287.75 L426.96 287.58 L429.10 287.40 L431.26 287.22 L433.44 287.03 L435.63 286.85 L437.82 286.67 L440.00 286.50 L442.40 286.31 L444.84 286.11 L447.31 285.90 L449.80 285.68 L452.30 285.47 L454.83 285.25 L457.36 285.04 L459.90 284.84 L462.43 284.65 L464.97 284.48 L467.49 284.33 L470.00 284.20 L472.52 284.09 L475.07 284.00 L477.64 283.93 L480.22 283.86 L482.80 283.82 L485.38 283.78 L487.93 283.75 L490.45 283.73 L492.93 283.72 L495.35 283.71 L497.71 283.70 L500.00 283.70 L501.79 283.70 L503.49 283.71 L505.12 283.72 L506.71 283.74 L508.27 283.76 L509.82 283.78 L511.39 283.81 L512.97 283.84 L514.61 283.88 L516.32 283.92 L518.11 283.96 L520.00 284.00 L522.83 284.07 L525.78 284.16 L528.85 284.26 L532.02 284.36 L535.28 284.48 L538.64 284.60 L542.06 284.71 L545.56 284.83 L549.11 284.94 L552.71 285.04 L556.34 285.13 L560.00 285.20 L564.61 285.27 L569.41 285.33 L574.38 285.37 L579.48 285.41 L584.65 285.43 L589.87 285.45 L595.10 285.46 L600.30 285.47 L605.43 285.48 L610.44 285.48 L615.32 285.49 L620.00 285.50 L623.82 285.51 L627.55 285.51 L631.21 285.52 L634.80 285.52 L638.34 285.52 L641.85 285.51 L645.33 285.51 L648.80 285.51 L652.27 285.51 L655.75 285.50 L659.26 285.50 L662.80 285.50" fill="none" stroke="#ff0000" stroke-width="2.80" stroke-dasharray="2.3 2.5" stroke-linejoin="round"/>
<rect x="70" y="16" width="593" height="1" fill="#c2c2c2"/>
<rect x="70" y="352" width="593" height="1" fill="#b0b0b0"/>
<rect x="70" y="16" width="1" height="337" fill="#bdbdbd"/>
<rect x="662" y="16" width="2" height="337" fill="#ececec"/>
<text x="65.3" y="22.8" text-anchor="end" style="font-family:'Liberation Serif',serif;font-size:16px;fill:#3c3c3c">8</text>
<text x="65.3" y="56.4" text-anchor="end" style="font-family:'Liberation Serif',serif;font-size:16px;fill:#3c3c3c">7</text>
<text x="65.3" y="90.0" text-anchor="end" style="font-family:'Liberation Serif',serif;font-size:16px;fill:#3c3c3c">6</text>
<text x="65.3" y="123.6" text-anchor="end" style="font-family:'Liberation Serif',serif;font-size:16px;fill:#3c3c3c">5</text>
<text x="65.3" y="157.2" text-anchor="end" style="font-family:'Liberation Serif',serif;font-size:16px;fill:#3c3c3c">4</text>
<text x="65.3" y="190.8" text-anchor="end" style="font-family:'Liberation Serif',serif;font-size:16px;fill:#3c3c3c">3</text>
<text x="65.3" y="224.3" text-anchor="end" style="font-family:'Liberation Serif',serif;font-size:16px;fill:#3c3c3c">2</text>
<text x="65.3" y="257.9" text-anchor="end" style="font-family:'Liberation Serif',serif;font-size:16px;fill:#3c3c3c">1</text>
<text x="65.3" y="291.5" text-anchor="end" style="font-family:'Liberation Serif',serif;font-size:16px;fill:#3c3c3c">0</text>
<text x="65.3" y="325.1" text-anchor="end" style="font-family:'Liberation Serif',serif;font-size:16px;fill:#3c3c3c">-1</text>
<text x="65.3" y="358.7" text-anchor="end" style="font-family:'Liberation Serif',serif;font-size:16px;fill:#3c3c3c">-2</text>
<text x="70.4" y="372.3" text-anchor="middle" style="font-family:'Liberation Serif',serif;font-size:16px;fill:#3c3c3c">0</text>
<text x="129.6" y="372.3" text-anchor="middle" style="font-family:'Liberation Serif',serif;font-size:16px;fill:#3c3c3c">0.5</text>
<text x="188.9" y="372.3" text-anchor="middle" style="font-family:'Liberation Serif',serif;font-size:16px;fill:#3c3c3c">1</text>
<text x="248.1" y="372.3" text-anchor="middle" style="font-family:'Liberation Serif',serif;font-size:16px;fill:#3c3c3c">1.5</text>
<text x="307.4" y="372.3" text-anchor="middle" style="font-family:'Liberation Serif',serif;font-size:16px;fill:#3c3c3c">2</text>
<text x="366.6" y="372.3" text-anchor="middle" style="font-family:'Liberation Serif',serif;font-size:16px;fill:#3c3c3c">2.5</text>
<text x="425.8" y="372.3" text-anchor="middle" style="font-family:'Liberation Serif',serif;font-size:16px;fill:#3c3c3c">3</text>
<text x="485.1" y="372.3" text-anchor="middle" style="font-family:'Liberation Serif',serif;font-size:16px;fill:#3c3c3c">3.5</text>
<text x="544.3" y="372.3" text-anchor="middle" style="font-family:'Liberation Serif',serif;font-size:16px;fill:#3c3c3c">4</text>
<text x="603.6" y="372.3" text-anchor="middle" style="font-family:'Liberation Serif',serif;font-size:16px;fill:#3c3c3c">4.5</text>
<text x="662.8" y="372.3" text-anchor="middle" style="font-family:'Liberation Serif',serif;font-size:16px;fill:#3c3c3c">5</text>
<text x="366.6" y="390.9" text-anchor="middle" style="font-family:'Liberation Serif',serif;font-size:18.7px;fill:#3c3c3c">Time(s)</text>
<rect x="555" y="22" width="102" height="55" fill="#fff"/>
<rect x="555" y="22" width="102" height="1" fill="#a8a8a8"/>
<rect x="555" y="76" width="102" height="1" fill="#c4c4c4"/>
<rect x="555" y="22" width="1" height="55" fill="#959595"/>
<rect x="656" y="22" width="1" height="55" fill="#a8a8a8"/>
<line x1="557.6" y1="32.6" x2="581.3" y2="32.6" stroke="#00ff00" stroke-width="2.6"/>
<line x1="557.6" y1="50.1" x2="581.3" y2="50.1" stroke="#0000ff" stroke-width="2.6" stroke-dasharray="9.4 2 5.3 2"/>
<line x1="557.6" y1="67.6" x2="581.3" y2="67.6" stroke="#ff0000" stroke-width="2.6" stroke-dasharray="2.4 2.4"/>
<text y="36.6" style="font-family:'Liberation Serif',serif;font-size:15px;fill:#3c3c3c"><tspan x="583" font-style="italic">ζ</tspan><tspan x="595.3" font-size="17px">=</tspan><tspan x="609.8" letter-spacing="0.7">0</tspan></text>
<text y="54.1" style="font-family:'Liberation Serif',serif;font-size:15px;fill:#3c3c3c"><tspan x="583.6" font-style="italic" font-size="16.5px">L</tspan><tspan x="593.3" font-size="10.5px" dy="2.5">0</tspan><tspan x="599.4" dy="-2.5" font-size="16.5px">(</tspan><tspan x="603.8" font-style="italic">ζ</tspan><tspan x="615.8" font-size="17px">=</tspan><tspan x="631" letter-spacing="0.4">0.1</tspan><tspan x="649" font-size="16.5px">)</tspan></text>
<text y="71.6" style="font-family:'Liberation Serif',serif;font-size:15px;fill:#3c3c3c"><tspan x="583.6" font-style="italic" font-size="16.5px">L</tspan><tspan x="593.3" font-size="10.5px" dy="2.5">0</tspan><tspan x="599.4" dy="-2.5" font-size="16.5px">(</tspan><tspan x="603.8" font-style="italic">ζ</tspan><tspan x="615.8" font-size="17px">=</tspan><tspan x="631" letter-spacing="0.4">0.2</tspan><tspan x="649" font-size="16.5px">)</tspan></text>
<line x1="70.5" y1="815.7" x2="70.5" y2="821.7" stroke="#8c8c8c" stroke-width="1.0"/>
<line x1="70.5" y1="486.5" x2="70.5" y2="492.5" stroke="#a8a8a8" stroke-width="1.0"/>
<line x1="129.5" y1="815.7" x2="129.5" y2="821.7" stroke="#8c8c8c" stroke-width="1.0"/>
<line x1="129.5" y1="486.5" x2="129.5" y2="492.5" stroke="#a8a8a8" stroke-width="1.0"/>
<line x1="188.5" y1="815.7" x2="188.5" y2="821.7" stroke="#8c8c8c" stroke-width="1.0"/>
<line x1="188.5" y1="486.5" x2="188.5" y2="492.5" stroke="#a8a8a8" stroke-width="1.0"/>
<line x1="248.5" y1="815.7" x2="248.5" y2="821.7" stroke="#8c8c8c" stroke-width="1.0"/>
<line x1="248.5" y1="486.5" x2="248.5" y2="492.5" stroke="#a8a8a8" stroke-width="1.0"/>
<line x1="307.5" y1="815.7" x2="307.5" y2="821.7" stroke="#8c8c8c" stroke-width="1.0"/>
<line x1="307.5" y1="486.5" x2="307.5" y2="492.5" stroke="#a8a8a8" stroke-width="1.0"/>
<line x1="366.5" y1="815.7" x2="366.5" y2="821.7" stroke="#8c8c8c" stroke-width="1.0"/>
<line x1="366.5" y1="486.5" x2="366.5" y2="492.5" stroke="#a8a8a8" stroke-width="1.0"/>
<line x1="425.5" y1="815.7" x2="425.5" y2="821.7" stroke="#8c8c8c" stroke-width="1.0"/>
<line x1="425.5" y1="486.5" x2="425.5" y2="492.5" stroke="#a8a8a8" stroke-width="1.0"/>
<line x1="485.5" y1="815.7" x2="485.5" y2="821.7" stroke="#8c8c8c" stroke-width="1.0"/>
<line x1="485.5" y1="486.5" x2="485.5" y2="492.5" stroke="#a8a8a8" stroke-width="1.0"/>
<line x1="544.5" y1="815.7" x2="544.5" y2="821.7" stroke="#8c8c8c" stroke-width="1.0"/>
<line x1="544.5" y1="486.5" x2="544.5" y2="492.5" stroke="#a8a8a8" stroke-width="1.0"/>
<line x1="603.5" y1="815.7" x2="603.5" y2="821.7" stroke="#8c8c8c" stroke-width="1.0"/>
<line x1="603.5" y1="486.5" x2="603.5" y2="492.5" stroke="#a8a8a8" stroke-width="1.0"/>
<line x1="662.5" y1="815.7" x2="662.5" y2="821.7" stroke="#8c8c8c" stroke-width="1.0"/>
<line x1="662.5" y1="486.5" x2="662.5" y2="492.5" stroke="#a8a8a8" stroke-width="1.0"/>
<line x1="70.4" y1="486.5" x2="76.4" y2="486.5" stroke="#b8b8b8" stroke-width="1"/>
<line x1="656.8" y1="486.5" x2="662.8" y2="486.5" stroke="#a0a0a0" stroke-width="1"/>
<line x1="70.4" y1="542.5" x2="76.4" y2="542.5" stroke="#b8b8b8" stroke-width="1"/>
<line x1="656.8" y1="542.5" x2="662.8" y2="542.5" stroke="#a0a0a0" stroke-width="1"/>
<line x1="70.4" y1="598.5" x2="76.4" y2="598.5" stroke="#b8b8b8" stroke-width="1"/>
<line x1="656.8" y1="598.5" x2="662.8" y2="598.5" stroke="#a0a0a0" stroke-width="1"/>
<line x1="70.4" y1="654.5" x2="76.4" y2="654.5" stroke="#b8b8b8" stroke-width="1"/>
<line x1="656.8" y1="654.5" x2="662.8" y2="654.5" stroke="#a0a0a0" stroke-width="1"/>
<line x1="70.4" y1="709.5" x2="76.4" y2="709.5" stroke="#b8b8b8" stroke-width="1"/>
<line x1="656.8" y1="709.5" x2="662.8" y2="709.5" stroke="#a0a0a0" stroke-width="1"/>
<line x1="70.4" y1="765.5" x2="76.4" y2="765.5" stroke="#b8b8b8" stroke-width="1"/>
<line x1="656.8" y1="765.5" x2="662.8" y2="765.5" stroke="#a0a0a0" stroke-width="1"/>
<line x1="70.4" y1="821.5" x2="76.4" y2="821.5" stroke="#b8b8b8" stroke-width="1"/>
<line x1="656.8" y1="821.5" x2="662.8" y2="821.5" stroke="#a0a0a0" stroke-width="1"/>
<path d="M70.40 598.50 L188.80 598.50 L188.84 600.25 L188.88 601.94 L188.93 603.58 L188.97 605.20 L189.01 606.82 L189.05 608.46 L189.09 610.15 L189.13 611.90 L189.18 613.74 L189.22 615.69 L189.26 617.77 L189.30 620.00 L189.37 624.59 L189.45 629.79 L189.52 635.51 L189.58 641.62 L189.65 648.03 L189.72 654.62 L189.79 661.30 L189.87 667.95 L189.94 674.48 L190.02 680.76 L190.11 686.71 L190.20 692.20 L190.27 696.22 L190.35 700.20 L190.42 704.14 L190.50 708.01 L190.58 711.81 L190.66 715.51 L190.75 719.11 L190.83 722.58 L190.92 725.93 L191.01 729.12 L191.10 732.15 L191.20 735.00 L191.26 736.69 L191.33 738.28 L191.39 739.79 L191.46 741.24 L191.52 742.63 L191.59 743.98 L191.66 745.31 L191.73 746.62 L191.80 747.93 L191.87 749.26 L191.93 750.61 L192.00 752.00 L192.10 750.60 L192.20 749.22 L192.30 747.85 L192.40 746.49 L192.50 745.13 L192.61 743.77 L192.71 742.39 L192.81 740.98 L192.91 739.55 L193.01 738.08 L193.10 736.57 L193.20 735.00 L193.32 732.87 L193.42 730.60 L193.51 728.22 L193.60 725.76 L193.69 723.25 L193.78 720.72 L193.88 718.20 L193.99 715.72 L194.11 713.32 L194.25 711.00 L194.41 708.82 L194.60 706.80 L194.74 705.41 L194.87 703.99 L194.99 702.55 L195.12 701.13 L195.26 699.74 L195.40 698.41 L195.57 697.16 L195.75 696.02 L195.96 694.99 L196.20 694.12 L196.48 693.41 L196.80 692.90 L196.93 692.76 L197.06 692.65 L197.20 692.56 L197.34 692.48 L197.49 692.42 L197.64 692.37 L197.79 692.33 L197.94 692.31 L198.09 692.30 L198.23 692.29 L198.37 692.29 L198.50 692.30 L198.61 692.32 L198.72 692.37 L198.82 692.43 L198.92 692.51 L199.02 692.60 L199.12 692.68 L199.22 692.76 L199.32 692.84 L199.41 692.89 L199.51 692.92 L199.60 692.93 L199.70 692.90 L200.07 692.46 L200.41 691.57 L200.72 690.29 L201.02 688.69 L201.31 686.82 L201.59 684.76 L201.87 682.57 L202.15 680.30 L202.44 678.03 L202.74 675.81 L203.06 673.71 L203.40 671.80 L203.79 669.86 L204.19 667.87 L204.62 665.84 L205.05 663.78 L205.50 661.72 L205.95 659.66 L206.40 657.63 L206.84 655.64 L207.28 653.71 L207.70 651.85 L208.11 650.07 L208.50 648.40 L208.76 647.29 L209.02 646.24 L209.27 645.25 L209.51 644.29 L209.75 643.36 L209.98 642.45 L210.22 641.54 L210.45 640.63 L210.69 639.70 L210.92 638.74 L211.16 637.75 L211.40 636.70 L211.70 635.37 L211.99 634.01 L212.29 632.61 L212.59 631.19 L212.89 629.74 L213.19 628.27 L213.49 626.79 L213.79 625.29 L214.09 623.77 L214.39 622.25 L214.69 620.73 L215.00 619.20 L215.33 617.51 L215.66 615.80 L215.99 614.06 L216.31 612.31 L216.64 610.54 L216.97 608.76 L217.30 606.98 L217.64 605.20 L217.99 603.43 L218.35 601.67 L218.72 599.92 L219.10 598.20 L219.49 596.55 L219.88 594.91 L220.29 593.27 L220.71 591.65 L221.14 590.02 L221.57 588.41 L222.01 586.80 L222.45 585.19 L222.89 583.59 L223.33 581.99 L223.77 580.39 L224.20 578.80 L224.62 577.24 L225.05 575.66 L225.48 574.08 L225.92 572.49 L226.36 570.91 L226.79 569.33 L227.22 567.78 L227.65 566.24 L228.08 564.73 L228.49 563.25 L228.90 561.80 L229.30 560.40 L229.62 559.29 L229.92 558.22 L230.22 557.17 L230.52 556.15 L230.81 555.14 L231.09 554.15 L231.38 553.16 L231.67 552.17 L231.97 551.18 L232.27 550.17 L232.58 549.15 L232.90 548.10 L233.25 546.94 L233.61 545.75 L233.97 544.55 L234.34 543.33 L234.71 542.11 L235.09 540.89 L235.47 539.67 L235.86 538.45 L236.26 537.26 L236.66 536.08 L237.08 534.92 L237.50 533.80 L237.89 532.80 L238.28 531.82 L238.68 530.86 L239.09 529.90 L239.50 528.96 L239.92 528.02 L240.34 527.10 L240.77 526.19 L241.22 525.28 L241.67 524.38 L242.13 523.49 L242.60 522.60 L243.06 521.74 L243.54 520.86 L244.02 519.97 L244.51 519.08 L245.01 518.20 L245.52 517.34 L246.03 516.49 L246.55 515.68 L247.08 514.91 L247.62 514.18 L248.16 513.51 L248.70 512.90 L249.11 512.49 L249.51 512.09 L249.93 511.73 L250.34 511.38 L250.76 511.05 L251.19 510.75 L251.61 510.46 L252.04 510.19 L252.48 509.95 L252.91 509.71 L253.36 509.50 L253.80 509.30 L254.21 509.13 L254.63 508.99 L255.06 508.85 L255.49 508.74 L255.92 508.63 L256.36 508.55 L256.79 508.47 L257.22 508.41 L257.65 508.37 L258.08 508.33 L258.49 508.31 L258.90 508.30 L259.26 508.30 L259.61 508.31 L259.96 508.33 L260.31 508.36 L260.65 508.40 L260.99 508.45 L261.33 508.51 L261.66 508.59 L262.00 508.67 L262.33 508.77 L262.67 508.88 L263.00 509.00 L263.37 509.14 L263.73 509.30 L264.09 509.46 L264.44 509.64 L264.80 509.83 L265.15 510.04 L265.50 510.26 L265.86 510.51 L266.21 510.77 L266.57 511.06 L266.93 511.37 L267.30 511.70 L267.89 512.29 L268.48 512.97 L269.08 513.73 L269.69 514.54 L270.30 515.41 L270.92 516.32 L271.54 517.25 L272.15 518.20 L272.77 519.15 L273.38 520.09 L274.00 521.01 L274.60 521.90 L275.22 522.79 L275.83 523.68 L276.44 524.57 L277.06 525.46 L277.67 526.36 L278.28 527.26 L278.89 528.17 L279.50 529.08 L280.10 530.00 L280.71 530.92 L281.30 531.86 L281.90 532.80 L282.52 533.80 L283.14 534.80 L283.76 535.81 L284.38 536.83 L285.00 537.85 L285.61 538.88 L286.22 539.93 L286.82 540.98 L287.42 542.04 L288.02 543.11 L288.61 544.20 L289.20 545.30 L289.83 546.51 L290.47 547.74 L291.10 548.99 L291.73 550.25 L292.36 551.53 L292.98 552.82 L293.59 554.11 L294.19 555.41 L294.79 556.71 L295.37 558.01 L295.94 559.31 L296.50 560.60 L297.03 561.87 L297.55 563.17 L298.06 564.47 L298.55 565.78 L299.04 567.10 L299.52 568.41 L299.99 569.71 L300.45 571.00 L300.92 572.27 L301.38 573.51 L301.84 574.72 L302.30 575.90 L302.68 576.85 L303.05 577.77 L303.40 578.66 L303.75 579.52 L304.10 580.38 L304.45 581.22 L304.81 582.07 L305.17 582.93 L305.55 583.80 L305.94 584.70 L306.36 585.63 L306.80 586.60 L307.41 587.92 L308.05 589.31 L308.73 590.74 L309.43 592.22 L310.15 593.72 L310.89 595.24 L311.65 596.77 L312.41 598.29 L313.19 599.80 L313.96 601.27 L314.73 602.71 L315.50 604.10 L316.20 605.34 L316.90 606.58 L317.59 607.80 L318.29 609.01 L319.00 610.20 L319.71 611.38 L320.43 612.54 L321.17 613.69 L321.92 614.82 L322.69 615.93 L323.48 617.03 L324.30 618.10 L325.11 619.14 L325.92 620.19 L326.75 621.25 L327.60 622.31 L328.45 623.34 L329.33 624.35 L330.22 625.33 L331.13 626.26 L332.06 627.13 L333.02 627.93 L334.00 628.66 L335.00 629.30 L335.94 629.82 L336.91 630.29 L337.90 630.71 L338.92 631.09 L339.96 631.43 L341.00 631.71 L342.06 631.95 L343.12 632.14 L344.18 632.28 L345.23 632.37 L346.27 632.41 L347.30 632.40 L348.34 632.33 L349.38 632.19 L350.43 631.98 L351.48 631.72 L352.53 631.42 L353.58 631.06 L354.62 630.67 L355.65 630.24 L356.67 629.78 L357.67 629.31 L358.64 628.81 L359.60 628.30 L360.55 627.75 L361.47 627.16 L362.38 626.54 L363.27 625.87 L364.15 625.18 L365.01 624.46 L365.86 623.73 L366.71 622.97 L367.56 622.21 L368.40 621.44 L369.25 620.67 L370.10 619.90 L370.99 619.09 L371.88 618.26 L372.77 617.41 L373.65 616.55 L374.52 615.68 L375.40 614.80 L376.27 613.91 L377.14 613.01 L378.00 612.11 L378.87 611.21 L379.73 610.30 L380.60 609.40 L381.48 608.46 L382.35 607.51 L383.22 606.53 L384.08 605.54 L384.94 604.55 L385.81 603.56 L386.67 602.58 L387.54 601.61 L388.41 600.66 L389.30 599.74 L390.19 598.85 L391.10 598.00 L391.95 597.25 L392.80 596.52 L393.66 595.81 L394.52 595.12 L395.40 594.45 L396.27 593.80 L397.15 593.15 L398.04 592.52 L398.93 591.91 L399.82 591.30 L400.71 590.69 L401.60 590.10 L402.45 589.53 L403.28 588.96 L404.11 588.39 L404.94 587.83 L405.76 587.27 L406.60 586.73 L407.45 586.21 L408.31 585.71 L409.21 585.24 L410.13 584.79 L411.10 584.38 L412.10 584.00 L413.38 583.58 L414.71 583.19 L416.10 582.84 L417.54 582.52 L419.01 582.24 L420.51 581.99 L422.03 581.79 L423.57 581.62 L425.11 581.50 L426.65 581.42 L428.18 581.39 L429.70 581.40 L431.31 581.47 L432.93 581.61 L434.56 581.81 L436.21 582.06 L437.86 582.36 L439.52 582.70 L441.17 583.08 L442.83 583.48 L444.49 583.91 L446.13 584.36 L447.77 584.83 L449.40 585.30 L451.06 585.81 L452.71 586.37 L454.36 586.96 L456.01 587.59 L457.65 588.24 L459.28 588.92 L460.92 589.60 L462.55 590.29 L464.19 590.99 L465.82 591.67 L467.46 592.35 L469.10 593.00 L470.73 593.65 L472.34 594.33 L473.94 595.02 L475.54 595.71 L477.13 596.41 L478.73 597.10 L480.34 597.77 L481.97 598.43 L483.63 599.05 L485.31 599.65 L487.03 600.20 L488.80 600.70 L490.84 601.22 L492.95 601.72 L495.12 602.18 L497.32 602.62 L499.56 603.01 L501.82 603.38 L504.08 603.70 L506.34 603.98 L508.58 604.21 L510.80 604.39 L512.98 604.52 L515.10 604.60 L516.99 604.61 L518.86 604.57 L520.70 604.48 L522.53 604.35 L524.34 604.17 L526.15 603.97 L527.95 603.74 L529.74 603.49 L531.54 603.22 L533.35 602.95 L535.17 602.67 L537.00 602.40 L538.91 602.10 L540.83 601.77 L542.76 601.41 L544.69 601.03 L546.63 600.63 L548.57 600.22 L550.50 599.82 L552.43 599.42 L554.35 599.03 L556.25 598.66 L558.13 598.31 L560.00 598.00 L561.71 597.73 L563.41 597.48 L565.09 597.23 L566.76 596.99 L568.42 596.76 L570.08 596.55 L571.73 596.34 L573.38 596.15 L575.03 595.97 L576.68 595.80 L578.33 595.64 L580.00 595.50 L581.66 595.37 L583.33 595.25 L585.00 595.14 L586.66 595.05 L588.33 594.97 L590.00 594.89 L591.66 594.83 L593.33 594.79 L595.00 594.75 L596.67 594.72 L598.33 594.71 L600.00 594.70 L601.67 594.71 L603.33 594.73 L605.00 594.77 L606.67 594.81 L608.33 594.87 L610.00 594.94 L611.67 595.02 L613.34 595.11 L615.00 595.20 L616.67 595.30 L618.33 595.40 L620.00 595.50 L621.66 595.61 L623.32 595.74 L624.97 595.87 L626.62 596.01 L628.27 596.16 L629.92 596.32 L631.57 596.47 L633.24 596.63 L634.91 596.78 L636.59 596.93 L638.29 597.07 L640.00 597.20 L641.85 597.33 L643.71 597.46 L645.59 597.58 L647.49 597.70 L649.39 597.81 L651.31 597.93 L653.22 598.04 L655.14 598.15 L657.06 598.26 L658.98 598.37 L660.90 598.48 L662.80 598.60" fill="none" stroke="#00ff00" stroke-width="3.00" stroke-linejoin="round"/>
<path d="M70.40 598.50 L188.80 598.50 L188.86 599.60 L188.91 600.66 L188.97 601.70 L189.03 602.72 L189.08 603.75 L189.14 604.79 L189.20 605.85 L189.25 606.95 L189.31 608.09 L189.37 609.29 L189.44 610.55 L189.50 611.90 L189.61 614.30 L189.73 616.91 L189.86 619.69 L190.00 622.62 L190.14 625.67 L190.27 628.82 L190.41 632.05 L190.54 635.32 L190.67 638.62 L190.79 641.92 L190.90 645.18 L191.00 648.40 L191.09 651.91 L191.17 655.47 L191.23 659.07 L191.28 662.70 L191.33 666.37 L191.37 670.05 L191.41 673.75 L191.45 677.45 L191.50 681.16 L191.55 684.85 L191.62 688.54 L191.70 692.20 L191.79 695.89 L191.89 699.63 L192.00 703.41 L192.11 707.21 L192.23 711.01 L192.35 714.80 L192.48 718.54 L192.61 722.22 L192.73 725.83 L192.86 729.34 L192.98 732.74 L193.10 736.00 L193.19 738.46 L193.27 740.89 L193.36 743.29 L193.44 745.65 L193.52 747.97 L193.61 750.23 L193.69 752.43 L193.78 754.56 L193.88 756.62 L193.98 758.60 L194.09 760.50 L194.20 762.30 L194.28 763.51 L194.36 764.79 L194.43 766.10 L194.51 767.40 L194.59 768.68 L194.67 769.89 L194.76 771.00 L194.85 771.99 L194.95 772.81 L195.06 773.44 L195.17 773.85 L195.30 774.00 L195.38 773.96 L195.47 773.83 L195.56 773.63 L195.66 773.36 L195.76 773.03 L195.86 772.65 L195.96 772.24 L196.06 771.80 L196.15 771.35 L196.24 770.89 L196.32 770.44 L196.40 770.00 L196.51 769.24 L196.61 768.43 L196.70 767.57 L196.77 766.65 L196.84 765.70 L196.89 764.69 L196.94 763.65 L196.99 762.57 L197.04 761.45 L197.09 760.30 L197.14 759.11 L197.20 757.90 L197.29 755.92 L197.38 753.80 L197.47 751.57 L197.56 749.23 L197.64 746.80 L197.72 744.30 L197.80 741.74 L197.88 739.14 L197.96 736.53 L198.04 733.90 L198.12 731.29 L198.20 728.70 L198.29 725.79 L198.38 722.81 L198.47 719.77 L198.56 716.68 L198.65 713.57 L198.74 710.45 L198.83 707.33 L198.92 704.22 L199.02 701.13 L199.11 698.09 L199.20 695.11 L199.30 692.20 L199.38 689.62 L199.46 687.03 L199.54 684.43 L199.61 681.85 L199.69 679.29 L199.77 676.77 L199.85 674.29 L199.94 671.87 L200.04 669.52 L200.15 667.25 L200.27 665.07 L200.40 663.00 L200.50 661.58 L200.60 660.20 L200.70 658.84 L200.80 657.51 L200.91 656.22 L201.03 654.96 L201.15 653.75 L201.27 652.58 L201.41 651.46 L201.56 650.38 L201.72 649.36 L201.90 648.40 L202.02 647.78 L202.15 647.14 L202.28 646.49 L202.42 645.84 L202.56 645.21 L202.71 644.61 L202.85 644.07 L203.00 643.58 L203.15 643.18 L203.30 642.87 L203.45 642.67 L203.60 642.60 L203.72 642.64 L203.83 642.75 L203.95 642.93 L204.08 643.17 L204.20 643.46 L204.32 643.78 L204.44 644.14 L204.56 644.51 L204.68 644.90 L204.79 645.28 L204.90 645.65 L205.00 646.00 L205.13 646.48 L205.26 646.99 L205.37 647.52 L205.48 648.08 L205.58 648.65 L205.69 649.23 L205.78 649.83 L205.88 650.43 L205.98 651.03 L206.08 651.63 L206.19 652.22 L206.30 652.80 L206.42 653.40 L206.53 654.03 L206.65 654.66 L206.76 655.31 L206.88 655.95 L207.00 656.59 L207.12 657.22 L207.24 657.83 L207.37 658.43 L207.51 658.99 L207.65 659.51 L207.80 660.00 L207.91 660.32 L208.02 660.66 L208.13 661.00 L208.25 661.33 L208.37 661.66 L208.49 661.97 L208.61 662.25 L208.74 662.50 L208.86 662.71 L208.97 662.87 L209.09 662.97 L209.20 663.00 L209.31 662.96 L209.42 662.86 L209.52 662.71 L209.63 662.50 L209.74 662.26 L209.84 661.98 L209.94 661.67 L210.04 661.35 L210.14 661.01 L210.23 660.67 L210.32 660.33 L210.40 660.00 L210.53 659.45 L210.64 658.86 L210.74 658.23 L210.82 657.56 L210.90 656.86 L210.98 656.13 L211.05 655.38 L211.11 654.60 L211.18 653.80 L211.25 652.98 L211.32 652.15 L211.40 651.30 L211.52 650.06 L211.63 648.74 L211.74 647.37 L211.85 645.94 L211.96 644.47 L212.08 642.97 L212.19 641.45 L212.30 639.91 L212.42 638.37 L212.54 636.83 L212.67 635.30 L212.80 633.80 L212.94 632.24 L213.08 630.67 L213.23 629.09 L213.38 627.50 L213.53 625.90 L213.69 624.30 L213.85 622.70 L214.01 621.11 L214.18 619.51 L214.35 617.93 L214.52 616.36 L214.70 614.80 L214.87 613.29 L215.04 611.75 L215.20 610.19 L215.37 608.63 L215.54 607.07 L215.72 605.53 L215.90 604.01 L216.09 602.53 L216.30 601.10 L216.51 599.73 L216.75 598.42 L217.00 597.20 L217.18 596.39 L217.37 595.61 L217.56 594.86 L217.76 594.14 L217.96 593.43 L218.17 592.75 L218.39 592.09 L218.61 591.44 L218.84 590.81 L219.09 590.20 L219.34 589.59 L219.60 589.00 L219.83 588.52 L220.08 588.07 L220.33 587.64 L220.60 587.23 L220.87 586.82 L221.15 586.43 L221.42 586.03 L221.70 585.63 L221.96 585.22 L222.22 584.80 L222.47 584.36 L222.70 583.90 L222.95 583.36 L223.19 582.80 L223.42 582.24 L223.64 581.67 L223.85 581.08 L224.06 580.48 L224.26 579.88 L224.45 579.26 L224.65 578.63 L224.83 578.00 L225.02 577.35 L225.20 576.70 L225.41 575.92 L225.60 575.11 L225.79 574.29 L225.97 573.44 L226.14 572.59 L226.31 571.72 L226.48 570.85 L226.64 569.97 L226.80 569.10 L226.97 568.22 L227.13 567.36 L227.30 566.50 L227.47 565.65 L227.64 564.81 L227.81 563.96 L227.98 563.12 L228.14 562.28 L228.31 561.43 L228.48 560.59 L228.64 559.74 L228.81 558.88 L228.97 558.03 L229.14 557.17 L229.30 556.30 L229.47 555.38 L229.63 554.43 L229.79 553.48 L229.95 552.51 L230.11 551.54 L230.27 550.57 L230.43 549.61 L230.59 548.66 L230.76 547.73 L230.93 546.82 L231.11 545.94 L231.30 545.10 L231.46 544.44 L231.61 543.79 L231.77 543.16 L231.92 542.54 L232.09 541.94 L232.25 541.34 L232.42 540.76 L232.60 540.18 L232.78 539.60 L232.98 539.03 L233.18 538.47 L233.40 537.90 L233.62 537.37 L233.86 536.85 L234.11 536.34 L234.36 535.83 L234.63 535.34 L234.90 534.84 L235.17 534.35 L235.45 533.85 L235.72 533.35 L235.99 532.84 L236.25 532.33 L236.50 531.80 L236.76 531.22 L237.01 530.63 L237.26 530.03 L237.51 529.43 L237.76 528.81 L238.00 528.20 L238.24 527.59 L238.49 526.97 L238.74 526.37 L238.99 525.77 L239.24 525.18 L239.50 524.60 L239.75 524.07 L240.00 523.55 L240.26 523.05 L240.52 522.54 L240.78 522.04 L241.04 521.55 L241.31 521.05 L241.57 520.56 L241.83 520.05 L242.09 519.54 L242.35 519.03 L242.60 518.50 L242.86 517.92 L243.11 517.32 L243.36 516.71 L243.60 516.09 L243.84 515.46 L244.08 514.84 L244.32 514.22 L244.57 513.60 L244.83 513.00 L245.11 512.41 L245.39 511.84 L245.70 511.30 L245.99 510.82 L246.29 510.34 L246.59 509.86 L246.91 509.39 L247.23 508.93 L247.56 508.48 L247.90 508.04 L248.24 507.63 L248.60 507.23 L248.96 506.86 L249.32 506.52 L249.70 506.20 L250.03 505.95 L250.36 505.72 L250.70 505.51 L251.04 505.32 L251.39 505.14 L251.74 504.97 L252.10 504.82 L252.47 504.68 L252.84 504.55 L253.22 504.42 L253.61 504.31 L254.00 504.20 L254.46 504.08 L254.95 503.98 L255.45 503.88 L255.96 503.79 L256.49 503.72 L257.01 503.66 L257.54 503.61 L258.06 503.59 L258.57 503.58 L259.07 503.60 L259.55 503.64 L260.00 503.70 L260.37 503.77 L260.73 503.86 L261.07 503.97 L261.41 504.10 L261.74 504.23 L262.06 504.38 L262.38 504.55 L262.70 504.72 L263.02 504.90 L263.34 505.09 L263.67 505.29 L264.00 505.50 L264.40 505.76 L264.79 506.02 L265.19 506.30 L265.58 506.60 L265.98 506.90 L266.37 507.22 L266.77 507.56 L267.17 507.91 L267.57 508.28 L267.98 508.67 L268.39 509.08 L268.80 509.50 L269.38 510.13 L269.98 510.80 L270.59 511.51 L271.20 512.26 L271.82 513.04 L272.44 513.85 L273.06 514.69 L273.68 515.53 L274.30 516.40 L274.91 517.26 L275.51 518.13 L276.10 519.00 L276.74 519.96 L277.37 520.93 L277.99 521.92 L278.61 522.92 L279.22 523.94 L279.83 524.97 L280.43 526.01 L281.03 527.07 L281.63 528.14 L282.22 529.22 L282.81 530.30 L283.40 531.40 L284.03 532.61 L284.65 533.84 L285.27 535.09 L285.88 536.36 L286.49 537.64 L287.09 538.93 L287.69 540.23 L288.29 541.53 L288.89 542.83 L289.49 544.13 L290.09 545.42 L290.70 546.70 L291.31 547.98 L291.94 549.26 L292.57 550.55 L293.20 551.83 L293.83 553.12 L294.46 554.41 L295.09 555.69 L295.70 556.97 L296.30 558.24 L296.89 559.50 L297.45 560.76 L298.00 562.00 L298.47 563.12 L298.91 564.23 L299.33 565.33 L299.73 566.42 L300.12 567.50 L300.50 568.59 L300.89 569.67 L301.29 570.75 L301.70 571.85 L302.14 572.95 L302.60 574.07 L303.10 575.20 L303.71 576.50 L304.36 577.82 L305.05 579.16 L305.76 580.50 L306.49 581.85 L307.23 583.21 L307.98 584.57 L308.73 585.94 L309.48 587.30 L310.21 588.67 L310.92 590.04 L311.60 591.40 L312.24 592.76 L312.86 594.16 L313.46 595.58 L314.04 597.01 L314.62 598.44 L315.20 599.87 L315.78 601.27 L316.38 602.64 L316.99 603.97 L317.63 605.25 L318.30 606.46 L319.00 607.60 L319.60 608.46 L320.22 609.27 L320.86 610.04 L321.51 610.77 L322.18 611.47 L322.85 612.16 L323.53 612.83 L324.21 613.50 L324.89 614.17 L325.57 614.86 L326.24 615.56 L326.90 616.30 L327.57 617.11 L328.21 617.96 L328.84 618.84 L329.45 619.74 L330.07 620.65 L330.70 621.55 L331.34 622.42 L332.00 623.27 L332.69 624.08 L333.41 624.82 L334.18 625.50 L335.00 626.10 L335.88 626.64 L336.81 627.13 L337.78 627.58 L338.79 628.00 L339.83 628.36 L340.89 628.68 L341.96 628.96 L343.05 629.19 L344.13 629.37 L345.20 629.50 L346.26 629.57 L347.30 629.60 L348.33 629.57 L349.37 629.46 L350.42 629.30 L351.47 629.09 L352.52 628.82 L353.56 628.52 L354.60 628.17 L355.64 627.80 L356.65 627.40 L357.66 626.98 L358.64 626.54 L359.60 626.10 L360.53 625.64 L361.44 625.15 L362.34 624.64 L363.22 624.09 L364.09 623.52 L364.95 622.93 L365.80 622.31 L366.65 621.68 L367.49 621.03 L368.32 620.37 L369.16 619.69 L370.00 619.00 L370.91 618.23 L371.81 617.42 L372.71 616.58 L373.59 615.72 L374.48 614.83 L375.36 613.93 L376.23 613.02 L377.11 612.11 L377.98 611.20 L378.85 610.29 L379.72 609.39 L380.60 608.50 L381.47 607.62 L382.33 606.72 L383.20 605.81 L384.05 604.90 L384.91 603.98 L385.77 603.07 L386.63 602.17 L387.49 601.28 L388.36 600.42 L389.23 599.58 L390.11 598.77 L391.00 598.00 L391.81 597.32 L392.62 596.66 L393.43 596.02 L394.25 595.39 L395.07 594.78 L395.89 594.19 L396.72 593.61 L397.56 593.05 L398.40 592.51 L399.26 591.99 L400.12 591.49 L401.00 591.00 L401.88 590.54 L402.75 590.10 L403.64 589.67 L404.53 589.27 L405.43 588.88 L406.34 588.51 L407.26 588.15 L408.19 587.81 L409.14 587.49 L410.11 587.18 L411.09 586.88 L412.10 586.60 L413.27 586.29 L414.47 585.98 L415.68 585.68 L416.92 585.40 L418.18 585.14 L419.45 584.91 L420.75 584.70 L422.06 584.52 L423.39 584.38 L424.74 584.27 L426.11 584.21 L427.50 584.20 L429.20 584.25 L430.95 584.38 L432.74 584.58 L434.57 584.83 L436.43 585.14 L438.30 585.49 L440.19 585.87 L442.07 586.27 L443.94 586.70 L445.79 587.13 L447.61 587.57 L449.40 588.00 L451.09 588.42 L452.76 588.87 L454.42 589.34 L456.07 589.82 L457.71 590.33 L459.34 590.85 L460.97 591.38 L462.59 591.92 L464.22 592.46 L465.84 593.01 L467.47 593.55 L469.10 594.10 L470.74 594.67 L472.35 595.27 L473.95 595.90 L475.55 596.55 L477.14 597.20 L478.74 597.84 L480.35 598.48 L481.98 599.09 L483.63 599.66 L485.32 600.20 L487.04 600.68 L488.80 601.10 L490.84 601.51 L492.96 601.86 L495.12 602.17 L497.33 602.44 L499.57 602.66 L501.82 602.85 L504.09 603.00 L506.35 603.11 L508.59 603.20 L510.80 603.26 L512.98 603.29 L515.10 603.30 L516.99 603.28 L518.86 603.23 L520.71 603.14 L522.53 603.03 L524.34 602.89 L526.15 602.73 L527.94 602.55 L529.74 602.35 L531.54 602.15 L533.35 601.93 L535.17 601.72 L537.00 601.50 L538.91 601.26 L540.82 601.00 L542.75 600.71 L544.69 600.41 L546.63 600.10 L548.57 599.78 L550.50 599.46 L552.43 599.14 L554.35 598.83 L556.25 598.53 L558.14 598.26 L560.00 598.00 L561.71 597.78 L563.41 597.56 L565.09 597.34 L566.76 597.13 L568.43 596.93 L570.08 596.74 L571.73 596.55 L573.38 596.38 L575.03 596.21 L576.68 596.06 L578.34 595.92 L580.00 595.80 L581.66 595.69 L583.33 595.59 L585.00 595.51 L586.66 595.43 L588.33 595.37 L590.00 595.31 L591.66 595.27 L593.33 595.24 L595.00 595.21 L596.67 595.20 L598.33 595.20 L600.00 595.20 L601.67 595.22 L603.33 595.24 L605.00 595.29 L606.67 595.34 L608.33 595.40 L610.00 595.47 L611.67 595.55 L613.33 595.63 L615.00 595.72 L616.67 595.81 L618.33 595.90 L620.00 596.00 L621.66 596.10 L623.32 596.21 L624.97 596.34 L626.62 596.46 L628.27 596.60 L629.92 596.73 L631.57 596.87 L633.24 597.01 L634.91 597.14 L636.59 597.27 L638.29 597.39 L640.00 597.50 L641.85 597.61 L643.71 597.71 L645.59 597.81 L647.49 597.90 L649.39 597.99 L651.31 598.08 L653.22 598.17 L655.14 598.25 L657.06 598.34 L658.98 598.42 L660.90 598.51 L662.80 598.60" fill="none" stroke="#0000ff" stroke-width="3.00" stroke-dasharray="6.4 2.3" stroke-linejoin="round"/>
<path d="M70.40 598.50 L188.80 598.50 L188.86 599.60 L188.91 600.66 L188.97 601.70 L189.03 602.72 L189.08 603.75 L189.14 604.79 L189.20 605.85 L189.25 606.95 L189.31 608.09 L189.37 609.29 L189.44 610.55 L189.50 611.90 L189.61 614.30 L189.73 616.91 L189.86 619.69 L190.00 622.62 L190.14 625.67 L190.27 628.82 L190.41 632.05 L190.54 635.32 L190.67 638.62 L190.79 641.92 L190.90 645.18 L191.00 648.40 L191.09 651.91 L191.17 655.47 L191.23 659.07 L191.28 662.70 L191.33 666.37 L191.37 670.05 L191.41 673.75 L191.45 677.45 L191.50 681.16 L191.55 684.85 L191.62 688.54 L191.70 692.20 L191.79 695.89 L191.89 699.63 L192.00 703.41 L192.11 707.21 L192.23 711.01 L192.35 714.80 L192.48 718.54 L192.61 722.22 L192.73 725.83 L192.86 729.34 L192.98 732.74 L193.10 736.00 L193.19 738.46 L193.27 740.89 L193.36 743.29 L193.44 745.65 L193.52 747.97 L193.61 750.23 L193.69 752.43 L193.78 754.56 L193.88 756.62 L193.98 758.60 L194.09 760.50 L194.20 762.30 L194.28 763.51 L194.36 764.79 L194.43 766.10 L194.51 767.40 L194.59 768.68 L194.67 769.89 L194.76 771.00 L194.85 771.99 L194.95 772.81 L195.06 773.44 L195.17 773.85 L195.30 774.00 L195.38 773.96 L195.47 773.83 L195.56 773.63 L195.66 773.36 L195.76 773.03 L195.86 772.65 L195.96 772.24 L196.06 771.80 L196.15 771.35 L196.24 770.89 L196.32 770.44 L196.40 770.00 L196.51 769.24 L196.61 768.43 L196.70 767.57 L196.77 766.65 L196.84 765.70 L196.89 764.69 L196.94 763.65 L196.99 762.57 L197.04 761.45 L197.09 760.30 L197.14 759.11 L197.20 757.90 L197.29 755.92 L197.38 753.80 L197.47 751.57 L197.56 749.23 L197.64 746.80 L197.72 744.30 L197.80 741.74 L197.88 739.14 L197.96 736.53 L198.04 733.90 L198.12 731.29 L198.20 728.70 L198.29 725.79 L198.38 722.81 L198.47 719.77 L198.56 716.68 L198.65 713.57 L198.74 710.45 L198.83 707.33 L198.92 704.22 L199.02 701.13 L199.11 698.09 L199.20 695.11 L199.30 692.20 L199.38 689.62 L199.46 687.03 L199.54 684.43 L199.61 681.85 L199.69 679.29 L199.77 676.77 L199.85 674.29 L199.94 671.87 L200.04 669.52 L200.15 667.25 L200.27 665.07 L200.40 663.00 L200.50 661.58 L200.60 660.20 L200.70 658.84 L200.80 657.51 L200.91 656.22 L201.03 654.96 L201.15 653.75 L201.27 652.58 L201.41 651.46 L201.56 650.38 L201.72 649.36 L201.90 648.40 L202.02 647.78 L202.15 647.14 L202.28 646.49 L202.42 645.84 L202.56 645.21 L202.71 644.61 L202.85 644.07 L203.00 643.58 L203.15 643.18 L203.30 642.87 L203.45 642.67 L203.60 642.60 L203.72 642.64 L203.83 642.75 L203.95 642.93 L204.08 643.17 L204.20 643.46 L204.32 643.78 L204.44 644.14 L204.56 644.51 L204.68 644.90 L204.79 645.28 L204.90 645.65 L205.00 646.00 L205.13 646.48 L205.26 646.99 L205.37 647.52 L205.48 648.08 L205.58 648.65 L205.69 649.23 L205.78 649.83 L205.88 650.43 L205.98 651.03 L206.08 651.63 L206.19 652.22 L206.30 652.80 L206.42 653.40 L206.53 654.03 L206.65 654.66 L206.76 655.31 L206.88 655.95 L207.00 656.59 L207.12 657.22 L207.24 657.83 L207.37 658.43 L207.51 658.99 L207.65 659.51 L207.80 660.00 L207.91 660.32 L208.02 660.66 L208.13 661.00 L208.25 661.33 L208.37 661.66 L208.49 661.97 L208.61 662.25 L208.74 662.50 L208.86 662.71 L208.97 662.87 L209.09 662.97 L209.20 663.00 L209.31 662.96 L209.42 662.86 L209.52 662.71 L209.63 662.50 L209.74 662.26 L209.84 661.98 L209.94 661.67 L210.04 661.35 L210.14 661.01 L210.23 660.67 L210.32 660.33 L210.40 660.00 L210.53 659.45 L210.64 658.86 L210.74 658.23 L210.82 657.56 L210.90 656.86 L210.98 656.13 L211.05 655.38 L211.11 654.60 L211.18 653.80 L211.25 652.98 L211.32 652.15 L211.40 651.30 L211.52 650.06 L211.63 648.74 L211.74 647.37 L211.85 645.94 L211.96 644.47 L212.08 642.97 L212.19 641.45 L212.30 639.91 L212.42 638.37 L212.54 636.83 L212.67 635.30 L212.80 633.80 L212.94 632.24 L213.08 630.67 L213.23 629.09 L213.38 627.50 L213.53 625.90 L213.69 624.30 L213.85 622.70 L214.01 621.11 L214.18 619.51 L214.35 617.93 L214.52 616.36 L214.70 614.80 L214.87 613.29 L215.04 611.75 L215.20 610.19 L215.37 608.63 L215.54 607.07 L215.72 605.53 L215.90 604.01 L216.09 602.53 L216.30 601.10 L216.51 599.73 L216.75 598.42 L217.00 597.20 L217.18 596.39 L217.37 595.61 L217.56 594.86 L217.76 594.14 L217.96 593.43 L218.17 592.75 L218.39 592.09 L218.61 591.44 L218.84 590.81 L219.09 590.20 L219.34 589.59 L219.60 589.00 L219.83 588.52 L220.08 588.07 L220.33 587.64 L220.60 587.23 L220.87 586.82 L221.15 586.43 L221.42 586.03 L221.70 585.63 L221.96 585.22 L222.22 584.80 L222.47 584.36 L222.70 583.90 L222.95 583.36 L223.19 582.80 L223.42 582.24 L223.64 581.67 L223.85 581.08 L224.06 580.48 L224.26 579.88 L224.45 579.26 L224.65 578.63 L224.83 578.00 L225.02 577.35 L225.20 576.70 L225.41 575.92 L225.60 575.11 L225.79 574.29 L225.97 573.44 L226.14 572.59 L226.31 571.72 L226.48 570.85 L226.64 569.97 L226.80 569.10 L226.97 568.22 L227.13 567.36 L227.30 566.50 L227.47 565.65 L227.64 564.81 L227.81 563.96 L227.98 563.12 L228.14 562.28 L228.31 561.43 L228.48 560.59 L228.64 559.74 L228.81 558.88 L228.97 558.03 L229.14 557.17 L229.30 556.30 L229.47 555.38 L229.63 554.43 L229.79 553.48 L229.95 552.51 L230.11 551.54 L230.27 550.57 L230.43 549.61 L230.59 548.66 L230.76 547.73 L230.93 546.82 L231.11 545.94 L231.30 545.10 L231.46 544.44 L231.61 543.79 L231.77 543.16 L231.92 542.54 L232.09 541.94 L232.25 541.34 L232.42 540.76 L232.60 540.18 L232.78 539.60 L232.98 539.03 L233.18 538.47 L233.40 537.90 L233.62 537.37 L233.86 536.85 L234.11 536.34 L234.36 535.83 L234.63 535.34 L234.90 534.84 L235.17 534.35 L235.45 533.85 L235.72 533.35 L235.99 532.84 L236.25 532.33 L236.50 531.80 L236.76 531.22 L237.01 530.63 L237.26 530.03 L237.51 529.43 L237.76 528.81 L238.00 528.20 L238.24 527.59 L238.49 526.97 L238.74 526.37 L238.99 525.77 L239.24 525.18 L239.50 524.60 L239.75 524.07 L240.00 523.55 L240.26 523.05 L240.52 522.54 L240.78 522.04 L241.04 521.55 L241.31 521.05 L241.57 520.56 L241.83 520.05 L242.09 519.54 L242.35 519.03 L242.60 518.50 L242.86 517.92 L243.11 517.31 L243.35 516.69 L243.59 516.06 L243.83 515.43 L244.06 514.79 L244.30 514.17 L244.55 513.55 L244.82 512.95 L245.09 512.37 L245.39 511.82 L245.70 511.30 L245.99 510.87 L246.28 510.44 L246.59 510.02 L246.90 509.61 L247.23 509.21 L247.56 508.83 L247.90 508.46 L248.25 508.12 L248.60 507.80 L248.96 507.50 L249.33 507.23 L249.70 507.00 L250.03 506.82 L250.37 506.67 L250.71 506.53 L251.06 506.42 L251.42 506.32 L251.78 506.24 L252.15 506.17 L252.52 506.11 L252.89 506.07 L253.26 506.04 L253.63 506.02 L254.00 506.00 L254.40 506.00 L254.80 506.02 L255.20 506.06 L255.61 506.12 L256.02 506.19 L256.44 506.27 L256.85 506.36 L257.26 506.45 L257.67 506.55 L258.09 506.64 L258.49 506.72 L258.90 506.80 L259.29 506.86 L259.68 506.91 L260.07 506.95 L260.46 506.99 L260.84 507.03 L261.23 507.07 L261.62 507.13 L262.00 507.19 L262.40 507.28 L262.79 507.39 L263.19 507.53 L263.60 507.70 L264.18 507.99 L264.78 508.34 L265.40 508.74 L266.03 509.18 L266.66 509.65 L267.29 510.16 L267.92 510.69 L268.55 511.24 L269.16 511.80 L269.76 512.37 L270.34 512.94 L270.90 513.50 L271.45 514.07 L271.97 514.65 L272.48 515.25 L272.98 515.85 L273.46 516.47 L273.94 517.10 L274.41 517.74 L274.88 518.40 L275.36 519.08 L275.83 519.77 L276.31 520.47 L276.80 521.20 L277.41 522.12 L278.02 523.07 L278.63 524.06 L279.25 525.08 L279.86 526.12 L280.48 527.18 L281.10 528.25 L281.71 529.33 L282.32 530.41 L282.92 531.49 L283.51 532.55 L284.10 533.60 L284.67 534.62 L285.23 535.63 L285.78 536.64 L286.32 537.64 L286.86 538.65 L287.40 539.66 L287.94 540.67 L288.48 541.70 L289.02 542.75 L289.57 543.81 L290.13 544.89 L290.70 546.00 L291.39 547.34 L292.10 548.72 L292.83 550.15 L293.57 551.60 L294.31 553.08 L295.06 554.56 L295.80 556.05 L296.53 557.53 L297.24 558.99 L297.92 560.43 L298.58 561.84 L299.20 563.20 L299.69 564.33 L300.15 565.43 L300.58 566.52 L300.99 567.60 L301.39 568.66 L301.78 569.72 L302.17 570.77 L302.57 571.81 L302.99 572.85 L303.43 573.90 L303.90 574.95 L304.40 576.00 L304.97 577.12 L305.56 578.25 L306.17 579.38 L306.81 580.51 L307.46 581.63 L308.12 582.76 L308.80 583.88 L309.49 584.99 L310.19 586.09 L310.89 587.17 L311.59 588.24 L312.30 589.30 L312.98 590.30 L313.67 591.29 L314.36 592.27 L315.06 593.24 L315.77 594.20 L316.48 595.15 L317.21 596.10 L317.94 597.03 L318.69 597.96 L319.44 598.88 L320.22 599.79 L321.00 600.70 L321.80 601.63 L322.60 602.58 L323.41 603.53 L324.22 604.48 L325.04 605.43 L325.88 606.36 L326.74 607.27 L327.62 608.14 L328.53 608.98 L329.48 609.78 L330.47 610.52 L331.50 611.20 L332.65 611.88 L333.87 612.54 L335.13 613.17 L336.44 613.76 L337.79 614.31 L339.16 614.82 L340.54 615.26 L341.92 615.65 L343.30 615.96 L344.66 616.19 L346.00 616.34 L347.30 616.40 L348.49 616.36 L349.68 616.23 L350.86 616.02 L352.02 615.74 L353.19 615.40 L354.35 615.01 L355.50 614.57 L356.66 614.09 L357.81 613.59 L358.97 613.06 L360.13 612.53 L361.30 612.00 L362.61 611.37 L363.92 610.67 L365.23 609.91 L366.55 609.11 L367.86 608.27 L369.17 607.41 L370.49 606.54 L371.80 605.67 L373.12 604.81 L374.44 603.97 L375.77 603.16 L377.10 602.40 L378.41 601.68 L379.73 600.96 L381.06 600.25 L382.40 599.55 L383.74 598.85 L385.08 598.17 L386.42 597.51 L387.74 596.86 L389.06 596.23 L390.36 595.63 L391.64 595.05 L392.90 594.50 L393.96 594.04 L394.99 593.59 L396.01 593.14 L397.02 592.71 L398.01 592.29 L399.01 591.89 L400.00 591.51 L401.00 591.16 L402.00 590.84 L403.02 590.56 L404.05 590.31 L405.10 590.10 L406.18 589.93 L407.25 589.80 L408.32 589.71 L409.38 589.66 L410.46 589.64 L411.55 589.64 L412.66 589.68 L413.80 589.73 L414.97 589.80 L416.20 589.89 L417.47 589.99 L418.80 590.10 L420.95 590.31 L423.28 590.59 L425.77 590.93 L428.36 591.33 L431.05 591.77 L433.78 592.24 L436.53 592.74 L439.26 593.24 L441.95 593.75 L444.56 594.26 L447.05 594.74 L449.40 595.20 L451.21 595.55 L452.97 595.90 L454.70 596.25 L456.40 596.60 L458.06 596.95 L459.70 597.30 L461.31 597.66 L462.90 598.03 L464.47 598.40 L466.03 598.79 L467.57 599.19 L469.10 599.60 L470.43 600.00 L471.71 600.44 L472.94 600.90 L474.15 601.39 L475.33 601.88 L476.52 602.37 L477.72 602.84 L478.95 603.29 L480.22 603.70 L481.54 604.06 L482.93 604.37 L484.40 604.60 L486.59 604.81 L488.94 604.89 L491.42 604.88 L494.01 604.78 L496.67 604.60 L499.38 604.38 L502.12 604.11 L504.84 603.83 L507.53 603.54 L510.16 603.26 L512.69 603.01 L515.10 602.80 L517.05 602.65 L518.96 602.49 L520.83 602.34 L522.66 602.18 L524.47 602.02 L526.25 601.85 L528.03 601.68 L529.80 601.50 L531.58 601.31 L533.37 601.12 L535.17 600.92 L537.00 600.70 L538.89 600.46 L540.77 600.19 L542.64 599.91 L544.51 599.61 L546.39 599.31 L548.27 599.00 L550.17 598.70 L552.08 598.40 L554.02 598.12 L555.98 597.85 L557.97 597.61 L560.00 597.40 L562.36 597.19 L564.76 596.99 L567.21 596.81 L569.70 596.64 L572.21 596.49 L574.74 596.36 L577.29 596.25 L579.85 596.16 L582.40 596.09 L584.95 596.04 L587.49 596.01 L590.00 596.00 L592.48 596.02 L594.94 596.08 L597.38 596.17 L599.80 596.28 L602.23 596.42 L604.67 596.56 L607.12 596.72 L609.61 596.89 L612.13 597.05 L614.69 597.21 L617.31 597.36 L620.00 597.50 L623.30 597.65 L626.69 597.81 L630.17 597.97 L633.70 598.12 L637.30 598.28 L640.93 598.44 L644.58 598.60 L648.25 598.76 L651.92 598.92 L655.58 599.08 L659.21 599.24 L662.80 599.40" fill="none" stroke="#ff0000" stroke-width="2.80" stroke-dasharray="2.3 2.5" stroke-linejoin="round"/>
<rect x="70" y="486" width="593" height="1" fill="#c2c2c2"/>
<rect x="70" y="821" width="593" height="1" fill="#b0b0b0"/>
<rect x="70" y="486" width="1" height="336" fill="#bdbdbd"/>
<rect x="662" y="486" width="2" height="336" fill="#ececec"/>
<text x="65.3" y="492.8" text-anchor="end" style="font-family:'Liberation Serif',serif;font-size:16px;fill:#3c3c3c">0.04</text>
<text x="65.3" y="548.7" text-anchor="end" style="font-family:'Liberation Serif',serif;font-size:16px;fill:#3c3c3c">0.02</text>
<text x="65.3" y="604.5" text-anchor="end" style="font-family:'Liberation Serif',serif;font-size:16px;fill:#3c3c3c">0</text>
<text x="65.3" y="660.4" text-anchor="end" style="font-family:'Liberation Serif',serif;font-size:16px;fill:#3c3c3c">-0.02</text>
<text x="65.3" y="716.3" text-anchor="end" style="font-family:'Liberation Serif',serif;font-size:16px;fill:#3c3c3c">-0.04</text>
<text x="65.3" y="772.1" text-anchor="end" style="font-family:'Liberation Serif',serif;font-size:16px;fill:#3c3c3c">-0.06</text>
<text x="65.3" y="828.0" text-anchor="end" style="font-family:'Liberation Serif',serif;font-size:16px;fill:#3c3c3c">-0.08</text>
<text x="70.4" y="842.1" text-anchor="middle" style="font-family:'Liberation Serif',serif;font-size:16px;fill:#3c3c3c">0</text>
<text x="129.6" y="842.1" text-anchor="middle" style="font-family:'Liberation Serif',serif;font-size:16px;fill:#3c3c3c">0.5</text>
<text x="188.9" y="842.1" text-anchor="middle" style="font-family:'Liberation Serif',serif;font-size:16px;fill:#3c3c3c">1</text>
<text x="248.1" y="842.1" text-anchor="middle" style="font-family:'Liberation Serif',serif;font-size:16px;fill:#3c3c3c">1.5</text>
<text x="307.4" y="842.1" text-anchor="middle" style="font-family:'Liberation Serif',serif;font-size:16px;fill:#3c3c3c">2</text>
<text x="366.6" y="842.1" text-anchor="middle" style="font-family:'Liberation Serif',serif;font-size:16px;fill:#3c3c3c">2.5</text>
<text x="425.8" y="842.1" text-anchor="middle" style="font-family:'Liberation Serif',serif;font-size:16px;fill:#3c3c3c">3</text>
<text x="485.1" y="842.1" text-anchor="middle" style="font-family:'Liberation Serif',serif;font-size:16px;fill:#3c3c3c">3.5</text>
<text x="544.3" y="842.1" text-anchor="middle" style="font-family:'Liberation Serif',serif;font-size:16px;fill:#3c3c3c">4</text>
<text x="603.6" y="842.1" text-anchor="middle" style="font-family:'Liberation Serif',serif;font-size:16px;fill:#3c3c3c">4.5</text>
<text x="662.8" y="842.1" text-anchor="middle" style="font-family:'Liberation Serif',serif;font-size:16px;fill:#3c3c3c">5</text>
<text x="366.6" y="861.6" text-anchor="middle" style="font-family:'Liberation Serif',serif;font-size:18.7px;fill:#3c3c3c">Time(s)</text>
<rect x="555" y="492" width="102" height="55" fill="#fff"/>
<rect x="555" y="492" width="102" height="1" fill="#a8a8a8"/>
<rect x="555" y="546" width="102" height="1" fill="#c4c4c4"/>
<rect x="555" y="492" width="1" height="55" fill="#959595"/>
<rect x="656" y="492" width="1" height="55" fill="#a8a8a8"/>
<line x1="557.6" y1="502.6" x2="581.3" y2="502.6" stroke="#00ff00" stroke-width="2.6"/>
<line x1="557.6" y1="520.1" x2="581.3" y2="520.1" stroke="#0000ff" stroke-width="2.6" stroke-dasharray="9.4 2 5.3 2"/>
<line x1="557.6" y1="537.6" x2="581.3" y2="537.6" stroke="#ff0000" stroke-width="2.6" stroke-dasharray="2.4 2.4"/>
<text y="506.6" style="font-family:'Liberation Serif',serif;font-size:15px;fill:#3c3c3c"><tspan x="583" font-style="italic">ζ</tspan><tspan x="595.3" font-size="17px">=</tspan><tspan x="609.8" letter-spacing="0.7">0</tspan></text>
<text y="524.1" style="font-family:'Liberation Serif',serif;font-size:15px;fill:#3c3c3c"><tspan x="583.6" font-style="italic" font-size="16.5px">L</tspan><tspan x="593.3" font-size="10.5px" dy="2.5">0</tspan><tspan x="599.4" dy="-2.5" font-size="16.5px">(</tspan><tspan x="603.8" font-style="italic">ζ</tspan><tspan x="615.8" font-size="17px">=</tspan><tspan x="631" letter-spacing="0.4">0.1</tspan><tspan x="649" font-size="16.5px">)</tspan></text>
<text y="541.6" style="font-family:'Liberation Serif',serif;font-size:15px;fill:#3c3c3c"><tspan x="583.6" font-style="italic" font-size="16.5px">L</tspan><tspan x="593.3" font-size="10.5px" dy="2.5">0</tspan><tspan x="599.4" dy="-2.5" font-size="16.5px">(</tspan><tspan x="603.8" font-style="italic">ζ</tspan><tspan x="615.8" font-size="17px">=</tspan><tspan x="631" letter-spacing="0.4">0.2</tspan><tspan x="649" font-size="16.5px">)</tspan></text>
<line x1="70.5" y1="1285.8" x2="70.5" y2="1291.8" stroke="#8c8c8c" stroke-width="1.0"/>
<line x1="70.5" y1="955.5" x2="70.5" y2="961.5" stroke="#d0d0d0" stroke-width="1.8"/>
<line x1="129.5" y1="1285.8" x2="129.5" y2="1291.8" stroke="#8c8c8c" stroke-width="1.0"/>
<line x1="129.74" y1="955.5" x2="129.74" y2="961.5" stroke="#d0d0d0" stroke-width="1.8"/>
<line x1="188.5" y1="1285.8" x2="188.5" y2="1291.8" stroke="#8c8c8c" stroke-width="1.0"/>
<line x1="188.98" y1="955.5" x2="188.98" y2="961.5" stroke="#d0d0d0" stroke-width="1.8"/>
<line x1="248.5" y1="1285.8" x2="248.5" y2="1291.8" stroke="#8c8c8c" stroke-width="1.0"/>
<line x1="248.22" y1="955.5" x2="248.22" y2="961.5" stroke="#d0d0d0" stroke-width="1.8"/>
<line x1="307.5" y1="1285.8" x2="307.5" y2="1291.8" stroke="#8c8c8c" stroke-width="1.0"/>
<line x1="307.46" y1="955.5" x2="307.46" y2="961.5" stroke="#d0d0d0" stroke-width="1.8"/>
<line x1="366.5" y1="1285.8" x2="366.5" y2="1291.8" stroke="#8c8c8c" stroke-width="1.0"/>
<line x1="366.7" y1="955.5" x2="366.7" y2="961.5" stroke="#d0d0d0" stroke-width="1.8"/>
<line x1="425.5" y1="1285.8" x2="425.5" y2="1291.8" stroke="#8c8c8c" stroke-width="1.0"/>
<line x1="425.94" y1="955.5" x2="425.94" y2="961.5" stroke="#d0d0d0" stroke-width="1.8"/>
<line x1="485.5" y1="1285.8" x2="485.5" y2="1291.8" stroke="#8c8c8c" stroke-width="1.0"/>
<line x1="485.18" y1="955.5" x2="485.18" y2="961.5" stroke="#d0d0d0" stroke-width="1.8"/>
<line x1="544.5" y1="1285.8" x2="544.5" y2="1291.8" stroke="#8c8c8c" stroke-width="1.0"/>
<line x1="544.42" y1="955.5" x2="544.42" y2="961.5" stroke="#d0d0d0" stroke-width="1.8"/>
<line x1="603.5" y1="1285.8" x2="603.5" y2="1291.8" stroke="#8c8c8c" stroke-width="1.0"/>
<line x1="603.66" y1="955.5" x2="603.66" y2="961.5" stroke="#d0d0d0" stroke-width="1.8"/>
<line x1="662.5" y1="1285.8" x2="662.5" y2="1291.8" stroke="#8c8c8c" stroke-width="1.0"/>
<line x1="662.9" y1="955.5" x2="662.9" y2="961.5" stroke="#d0d0d0" stroke-width="1.8"/>
<line x1="70.4" y1="955.5" x2="76.4" y2="955.5" stroke="#909090" stroke-width="1"/>
<line x1="656.8" y1="955.5" x2="662.8" y2="955.5" stroke="#bcbcbc" stroke-width="1"/>
<line x1="70.4" y1="989.5" x2="76.4" y2="989.5" stroke="#909090" stroke-width="1"/>
<line x1="656.8" y1="989.5" x2="662.8" y2="989.5" stroke="#bcbcbc" stroke-width="1"/>
<line x1="70.4" y1="1022.5" x2="76.4" y2="1022.5" stroke="#909090" stroke-width="1"/>
<line x1="656.8" y1="1022.5" x2="662.8" y2="1022.5" stroke="#bcbcbc" stroke-width="1"/>
<line x1="70.4" y1="1056.5" x2="76.4" y2="1056.5" stroke="#909090" stroke-width="1"/>
<line x1="656.8" y1="1056.5" x2="662.8" y2="1056.5" stroke="#bcbcbc" stroke-width="1"/>
<line x1="70.4" y1="1090.5" x2="76.4" y2="1090.5" stroke="#909090" stroke-width="1"/>
<line x1="656.8" y1="1090.5" x2="662.8" y2="1090.5" stroke="#bcbcbc" stroke-width="1"/>
<line x1="70.4" y1="1123.5" x2="76.4" y2="1123.5" stroke="#909090" stroke-width="1"/>
<line x1="656.8" y1="1123.5" x2="662.8" y2="1123.5" stroke="#bcbcbc" stroke-width="1"/>
<line x1="70.4" y1="1157.5" x2="76.4" y2="1157.5" stroke="#909090" stroke-width="1"/>
<line x1="656.8" y1="1157.5" x2="662.8" y2="1157.5" stroke="#bcbcbc" stroke-width="1"/>
<line x1="70.4" y1="1190.5" x2="76.4" y2="1190.5" stroke="#909090" stroke-width="1"/>
<line x1="656.8" y1="1190.5" x2="662.8" y2="1190.5" stroke="#bcbcbc" stroke-width="1"/>
<line x1="70.4" y1="1224.5" x2="76.4" y2="1224.5" stroke="#909090" stroke-width="1"/>
<line x1="656.8" y1="1224.5" x2="662.8" y2="1224.5" stroke="#bcbcbc" stroke-width="1"/>
<line x1="70.4" y1="1258.5" x2="76.4" y2="1258.5" stroke="#909090" stroke-width="1"/>
<line x1="656.8" y1="1258.5" x2="662.8" y2="1258.5" stroke="#bcbcbc" stroke-width="1"/>
<line x1="70.4" y1="1291.5" x2="76.4" y2="1291.5" stroke="#909090" stroke-width="1"/>
<line x1="656.8" y1="1291.5" x2="662.8" y2="1291.5" stroke="#bcbcbc" stroke-width="1"/>
<path d="M70.40 1191.00 L188.20 1191.00 L188.22 1179.14 L188.23 1167.09 L188.24 1154.93 L188.25 1142.70 L188.27 1130.47 L188.28 1118.30 L188.29 1106.26 L188.31 1094.40 L188.33 1082.78 L188.35 1071.46 L188.37 1060.52 L188.40 1050.00 L188.43 1042.14 L188.45 1034.53 L188.48 1027.15 L188.52 1019.96 L188.55 1012.91 L188.59 1005.97 L188.62 999.10 L188.66 992.28 L188.69 985.45 L188.73 978.59 L188.77 971.65 L188.80 964.60 L188.90 970.88 L189.00 977.14 L189.11 983.40 L189.21 989.65 L189.31 995.90 L189.41 1002.16 L189.52 1008.42 L189.62 1014.70 L189.72 1020.99 L189.81 1027.30 L189.91 1033.64 L190.00 1040.00 L190.09 1046.58 L190.18 1053.20 L190.27 1059.83 L190.36 1066.49 L190.45 1073.17 L190.53 1079.85 L190.62 1086.55 L190.70 1093.25 L190.78 1099.94 L190.85 1106.64 L190.93 1113.33 L191.00 1120.00 L191.07 1126.81 L191.14 1133.84 L191.20 1141.03 L191.26 1148.29 L191.32 1155.55 L191.38 1162.74 L191.44 1169.77 L191.49 1176.58 L191.55 1183.08 L191.60 1189.20 L191.65 1194.87 L191.70 1200.00 L191.73 1202.67 L191.75 1205.16 L191.78 1207.50 L191.81 1209.72 L191.83 1211.84 L191.85 1213.89 L191.88 1215.89 L191.90 1217.86 L191.93 1219.83 L191.95 1221.83 L191.98 1223.88 L192.00 1226.00 L192.09 1224.26 L192.19 1222.52 L192.28 1220.79 L192.38 1219.07 L192.47 1217.34 L192.57 1215.61 L192.66 1213.88 L192.75 1212.14 L192.84 1210.38 L192.93 1208.61 L193.02 1206.81 L193.10 1205.00 L193.18 1202.98 L193.25 1200.90 L193.32 1198.79 L193.38 1196.65 L193.44 1194.49 L193.50 1192.33 L193.56 1190.18 L193.63 1188.06 L193.70 1185.96 L193.79 1183.91 L193.89 1181.92 L194.00 1180.00 L194.10 1178.43 L194.19 1176.82 L194.29 1175.21 L194.39 1173.60 L194.49 1172.02 L194.60 1170.48 L194.72 1168.99 L194.86 1167.58 L195.01 1166.25 L195.19 1165.04 L195.38 1163.95 L195.60 1163.00 L195.72 1162.58 L195.84 1162.16 L195.98 1161.74 L196.12 1161.34 L196.26 1160.96 L196.41 1160.60 L196.55 1160.28 L196.70 1160.01 L196.83 1159.79 L196.97 1159.62 L197.09 1159.52 L197.20 1159.50 L197.36 1159.66 L197.51 1160.07 L197.64 1160.68 L197.75 1161.47 L197.85 1162.40 L197.93 1163.43 L198.02 1164.54 L198.09 1165.69 L198.17 1166.85 L198.24 1167.97 L198.32 1169.04 L198.40 1170.00 L198.48 1170.98 L198.56 1171.99 L198.62 1173.02 L198.67 1174.07 L198.73 1175.11 L198.78 1176.16 L198.84 1177.20 L198.90 1178.22 L198.98 1179.22 L199.07 1180.19 L199.17 1181.12 L199.30 1182.00 L199.41 1182.69 L199.52 1183.41 L199.63 1184.16 L199.75 1184.92 L199.87 1185.66 L200.01 1186.36 L200.15 1187.02 L200.30 1187.61 L200.45 1188.11 L200.62 1188.50 L200.81 1188.77 L201.00 1188.90 L201.12 1188.90 L201.25 1188.85 L201.39 1188.74 L201.53 1188.60 L201.67 1188.43 L201.82 1188.24 L201.97 1188.03 L202.12 1187.81 L202.26 1187.59 L202.41 1187.37 L202.56 1187.18 L202.70 1187.00 L202.84 1186.82 L202.98 1186.62 L203.12 1186.41 L203.26 1186.18 L203.40 1185.96 L203.54 1185.74 L203.68 1185.54 L203.82 1185.36 L203.96 1185.20 L204.11 1185.09 L204.25 1185.02 L204.40 1185.00 L204.59 1185.06 L204.78 1185.21 L204.96 1185.44 L205.15 1185.73 L205.33 1186.08 L205.52 1186.46 L205.72 1186.87 L205.93 1187.30 L206.14 1187.73 L206.38 1188.14 L206.63 1188.54 L206.90 1188.90 L207.30 1189.37 L207.74 1189.85 L208.21 1190.35 L208.71 1190.85 L209.23 1191.35 L209.76 1191.86 L210.31 1192.37 L210.87 1192.86 L211.44 1193.35 L212.00 1193.82 L212.55 1194.27 L213.10 1194.70 L213.60 1195.09 L214.10 1195.47 L214.59 1195.84 L215.08 1196.20 L215.58 1196.55 L216.08 1196.89 L216.59 1197.22 L217.12 1197.54 L217.66 1197.85 L218.22 1198.15 L218.80 1198.43 L219.40 1198.70 L220.17 1199.01 L220.99 1199.30 L221.84 1199.57 L222.72 1199.82 L223.62 1200.05 L224.54 1200.27 L225.47 1200.48 L226.40 1200.67 L227.32 1200.84 L228.23 1201.01 L229.13 1201.16 L230.00 1201.30 L230.78 1201.42 L231.57 1201.54 L232.35 1201.64 L233.13 1201.74 L233.91 1201.82 L234.68 1201.89 L235.44 1201.95 L236.20 1201.99 L236.94 1202.02 L237.68 1202.03 L238.40 1202.03 L239.10 1202.00 L239.69 1201.96 L240.28 1201.89 L240.86 1201.80 L241.43 1201.69 L242.00 1201.57 L242.56 1201.45 L243.10 1201.32 L243.64 1201.19 L244.17 1201.07 L244.69 1200.97 L245.20 1200.87 L245.70 1200.80 L246.08 1200.75 L246.45 1200.72 L246.79 1200.68 L247.13 1200.66 L247.46 1200.63 L247.79 1200.61 L248.13 1200.60 L248.47 1200.58 L248.82 1200.56 L249.19 1200.54 L249.58 1200.52 L250.00 1200.50 L250.69 1200.47 L251.43 1200.44 L252.21 1200.43 L253.03 1200.42 L253.88 1200.40 L254.75 1200.39 L255.63 1200.36 L256.52 1200.33 L257.41 1200.28 L258.29 1200.21 L259.16 1200.12 L260.00 1200.00 L260.82 1199.85 L261.61 1199.68 L262.38 1199.49 L263.14 1199.28 L263.90 1199.05 L264.67 1198.81 L265.45 1198.57 L266.27 1198.31 L267.12 1198.06 L268.02 1197.80 L268.97 1197.55 L270.00 1197.30 L271.93 1196.87 L274.06 1196.43 L276.36 1195.97 L278.80 1195.50 L281.35 1195.02 L283.98 1194.53 L286.67 1194.05 L289.39 1193.56 L292.12 1193.08 L294.81 1192.61 L297.45 1192.15 L300.00 1191.70 L302.50 1191.25 L304.99 1190.77 L307.49 1190.28 L309.99 1189.78 L312.49 1189.29 L314.98 1188.81 L317.48 1188.36 L319.98 1187.94 L322.49 1187.56 L324.99 1187.24 L327.49 1186.98 L330.00 1186.80 L332.49 1186.69 L334.99 1186.65 L337.49 1186.66 L339.99 1186.73 L342.49 1186.83 L344.99 1186.98 L347.50 1187.15 L350.00 1187.35 L352.50 1187.56 L355.00 1187.77 L357.50 1187.99 L360.00 1188.20 L362.50 1188.42 L365.00 1188.69 L367.50 1188.98 L370.00 1189.29 L372.50 1189.62 L375.00 1189.95 L377.50 1190.28 L380.00 1190.61 L382.50 1190.92 L385.00 1191.21 L387.50 1191.48 L390.00 1191.70 L392.50 1191.90 L395.00 1192.08 L397.49 1192.26 L399.99 1192.41 L402.49 1192.56 L404.99 1192.69 L407.50 1192.80 L410.00 1192.90 L412.50 1192.97 L415.00 1193.04 L417.50 1193.08 L420.00 1193.10 L422.50 1193.10 L425.00 1193.07 L427.50 1193.01 L430.00 1192.94 L432.50 1192.85 L435.00 1192.74 L437.50 1192.63 L440.00 1192.50 L442.50 1192.38 L445.00 1192.25 L447.50 1192.12 L450.00 1192.00 L452.49 1191.87 L454.95 1191.73 L457.40 1191.58 L459.84 1191.41 L462.28 1191.25 L464.73 1191.08 L467.19 1190.92 L469.68 1190.76 L472.20 1190.62 L474.75 1190.49 L477.35 1190.38 L480.00 1190.30 L483.13 1190.23 L486.33 1190.20 L489.59 1190.18 L492.91 1190.18 L496.26 1190.20 L499.64 1190.24 L503.04 1190.28 L506.45 1190.33 L509.86 1190.37 L513.27 1190.42 L516.65 1190.47 L520.00 1190.50 L523.27 1190.53 L526.45 1190.57 L529.57 1190.61 L532.65 1190.66 L535.73 1190.71 L538.84 1190.76 L542.02 1190.80 L545.29 1190.85 L548.70 1190.89 L552.26 1190.94 L556.02 1190.97 L560.00 1191.00 L566.90 1191.03 L574.38 1191.06 L582.35 1191.07 L590.74 1191.07 L599.46 1191.07 L608.42 1191.06 L617.55 1191.05 L626.77 1191.04 L635.98 1191.02 L645.12 1191.01 L654.08 1191.00 L662.80 1191.00" fill="none" stroke="#00ff00" stroke-width="2.61" stroke-linejoin="round"/>
<path d="M70.40 1191.00 L188.20 1191.00 L188.22 1179.14 L188.23 1167.09 L188.24 1154.93 L188.25 1142.70 L188.27 1130.47 L188.28 1118.30 L188.29 1106.26 L188.31 1094.40 L188.33 1082.78 L188.35 1071.46 L188.37 1060.52 L188.40 1050.00 L188.43 1042.14 L188.45 1034.53 L188.48 1027.15 L188.52 1019.96 L188.55 1012.91 L188.59 1005.97 L188.62 999.10 L188.66 992.28 L188.69 985.45 L188.73 978.59 L188.77 971.65 L188.80 964.60 L188.94 970.00 L189.09 975.30 L189.23 980.55 L189.37 985.77 L189.52 990.99 L189.66 996.24 L189.81 1001.55 L189.95 1006.95 L190.09 1012.46 L190.23 1018.12 L190.37 1023.96 L190.50 1030.00 L190.67 1038.19 L190.84 1046.75 L191.01 1055.62 L191.18 1064.75 L191.34 1074.08 L191.51 1083.55 L191.66 1093.10 L191.82 1102.67 L191.97 1112.20 L192.12 1121.64 L192.26 1130.93 L192.40 1140.00 L192.52 1148.70 L192.64 1157.66 L192.75 1166.78 L192.85 1175.97 L192.95 1185.12 L193.05 1194.15 L193.15 1202.94 L193.25 1211.41 L193.35 1219.44 L193.46 1226.95 L193.57 1233.84 L193.70 1240.00 L193.77 1242.97 L193.83 1245.79 L193.89 1248.46 L193.95 1251.01 L194.01 1253.43 L194.08 1255.74 L194.15 1257.96 L194.22 1260.09 L194.30 1262.15 L194.39 1264.15 L194.49 1266.09 L194.60 1268.00 L194.68 1269.34 L194.77 1270.75 L194.86 1272.21 L194.96 1273.66 L195.06 1275.08 L195.16 1276.43 L195.27 1277.68 L195.37 1278.77 L195.48 1279.69 L195.59 1280.39 L195.69 1280.84 L195.80 1281.00 L195.90 1280.87 L196.00 1280.50 L196.10 1279.93 L196.21 1279.17 L196.31 1278.25 L196.42 1277.22 L196.52 1276.08 L196.62 1274.89 L196.72 1273.65 L196.82 1272.40 L196.91 1271.18 L197.00 1270.00 L197.14 1268.01 L197.26 1265.82 L197.38 1263.48 L197.49 1260.99 L197.59 1258.41 L197.69 1255.75 L197.78 1253.06 L197.87 1250.35 L197.95 1247.65 L198.04 1245.01 L198.12 1242.45 L198.20 1240.00 L198.27 1237.85 L198.34 1235.75 L198.40 1233.69 L198.45 1231.65 L198.51 1229.63 L198.56 1227.62 L198.61 1225.60 L198.67 1223.56 L198.72 1221.49 L198.78 1219.38 L198.84 1217.22 L198.90 1215.00 L198.98 1212.28 L199.07 1209.46 L199.15 1206.57 L199.24 1203.62 L199.34 1200.64 L199.43 1197.62 L199.53 1194.60 L199.62 1191.60 L199.72 1188.61 L199.81 1185.68 L199.91 1182.80 L200.00 1180.00 L200.08 1177.53 L200.16 1175.06 L200.24 1172.60 L200.32 1170.15 L200.40 1167.72 L200.48 1165.32 L200.56 1162.96 L200.64 1160.64 L200.72 1158.38 L200.81 1156.18 L200.90 1154.05 L201.00 1152.00 L201.07 1150.48 L201.14 1148.96 L201.21 1147.45 L201.28 1145.97 L201.34 1144.52 L201.42 1143.10 L201.49 1141.74 L201.58 1140.43 L201.67 1139.20 L201.77 1138.04 L201.88 1136.97 L202.00 1136.00 L202.07 1135.50 L202.15 1134.98 L202.22 1134.47 L202.30 1133.96 L202.39 1133.47 L202.47 1133.01 L202.56 1132.60 L202.64 1132.23 L202.73 1131.93 L202.82 1131.70 L202.91 1131.55 L203.00 1131.50 L203.08 1131.54 L203.16 1131.65 L203.25 1131.82 L203.34 1132.05 L203.42 1132.33 L203.51 1132.65 L203.60 1133.00 L203.69 1133.38 L203.77 1133.78 L203.85 1134.19 L203.93 1134.60 L204.00 1135.00 L204.14 1135.86 L204.26 1136.80 L204.36 1137.84 L204.46 1138.95 L204.55 1140.13 L204.63 1141.39 L204.70 1142.70 L204.78 1144.07 L204.85 1145.49 L204.93 1146.96 L205.01 1148.46 L205.10 1150.00 L205.25 1152.70 L205.40 1155.69 L205.54 1158.92 L205.69 1162.35 L205.84 1165.90 L205.98 1169.54 L206.13 1173.20 L206.28 1176.83 L206.43 1180.38 L206.59 1183.80 L206.74 1187.02 L206.90 1190.00 L207.02 1192.09 L207.13 1194.16 L207.24 1196.19 L207.35 1198.18 L207.45 1200.12 L207.57 1202.02 L207.68 1203.86 L207.81 1205.63 L207.94 1207.34 L208.08 1208.97 L208.23 1210.53 L208.40 1212.00 L208.51 1212.95 L208.63 1213.94 L208.74 1214.95 L208.86 1215.96 L208.99 1216.93 L209.11 1217.86 L209.25 1218.71 L209.38 1219.46 L209.53 1220.09 L209.68 1220.57 L209.83 1220.88 L210.00 1221.00 L210.15 1220.94 L210.30 1220.75 L210.47 1220.44 L210.64 1220.03 L210.82 1219.54 L211.00 1218.98 L211.18 1218.36 L211.35 1217.71 L211.53 1217.03 L211.69 1216.34 L211.85 1215.66 L212.00 1215.00 L212.23 1213.83 L212.44 1212.50 L212.63 1211.06 L212.80 1209.52 L212.96 1207.91 L213.12 1206.25 L213.27 1204.59 L213.42 1202.94 L213.57 1201.32 L213.74 1199.78 L213.91 1198.33 L214.10 1197.00 L214.25 1196.09 L214.40 1195.19 L214.55 1194.32 L214.71 1193.46 L214.87 1192.62 L215.03 1191.81 L215.19 1191.03 L215.35 1190.26 L215.52 1189.53 L215.68 1188.82 L215.84 1188.15 L216.00 1187.50 L216.10 1187.07 L216.20 1186.64 L216.29 1186.20 L216.37 1185.77 L216.46 1185.36 L216.55 1184.96 L216.64 1184.58 L216.75 1184.24 L216.86 1183.94 L216.99 1183.67 L217.14 1183.46 L217.30 1183.30 L217.41 1183.23 L217.52 1183.17 L217.65 1183.13 L217.78 1183.09 L217.91 1183.07 L218.04 1183.06 L218.18 1183.07 L218.31 1183.09 L218.44 1183.12 L218.57 1183.16 L218.69 1183.22 L218.80 1183.30 L219.01 1183.53 L219.20 1183.86 L219.37 1184.29 L219.51 1184.78 L219.65 1185.34 L219.77 1185.95 L219.89 1186.60 L220.00 1187.28 L220.11 1187.97 L220.23 1188.66 L220.36 1189.34 L220.50 1190.00 L220.70 1190.89 L220.89 1191.84 L221.09 1192.85 L221.29 1193.89 L221.49 1194.95 L221.69 1196.03 L221.90 1197.11 L222.10 1198.17 L222.32 1199.20 L222.54 1200.19 L222.77 1201.13 L223.00 1202.00 L223.17 1202.64 L223.34 1203.31 L223.51 1203.99 L223.69 1204.67 L223.86 1205.34 L224.04 1205.98 L224.22 1206.58 L224.41 1207.11 L224.62 1207.56 L224.83 1207.92 L225.06 1208.17 L225.30 1208.30 L225.49 1208.31 L225.68 1208.26 L225.89 1208.16 L226.10 1208.01 L226.32 1207.83 L226.54 1207.61 L226.76 1207.37 L226.98 1207.10 L227.20 1206.83 L227.41 1206.55 L227.61 1206.27 L227.80 1206.00 L228.04 1205.60 L228.26 1205.14 L228.46 1204.63 L228.65 1204.09 L228.83 1203.52 L229.01 1202.94 L229.19 1202.37 L229.38 1201.81 L229.58 1201.28 L229.79 1200.79 L230.03 1200.36 L230.30 1200.00 L230.51 1199.77 L230.73 1199.55 L230.96 1199.34 L231.20 1199.14 L231.44 1198.95 L231.69 1198.78 L231.94 1198.64 L232.20 1198.52 L232.45 1198.42 L232.71 1198.35 L232.95 1198.31 L233.20 1198.30 L233.46 1198.34 L233.71 1198.42 L233.97 1198.54 L234.22 1198.70 L234.47 1198.89 L234.73 1199.10 L234.99 1199.33 L235.24 1199.56 L235.50 1199.81 L235.77 1200.05 L236.03 1200.28 L236.30 1200.50 L236.62 1200.78 L236.95 1201.10 L237.27 1201.45 L237.60 1201.82 L237.93 1202.20 L238.27 1202.57 L238.61 1202.93 L238.95 1203.25 L239.30 1203.53 L239.66 1203.76 L240.03 1203.92 L240.40 1204.00 L240.81 1203.98 L241.23 1203.87 L241.66 1203.68 L242.10 1203.42 L242.55 1203.11 L243.00 1202.77 L243.46 1202.42 L243.91 1202.06 L244.37 1201.73 L244.82 1201.43 L245.26 1201.18 L245.70 1201.00 L246.06 1200.89 L246.40 1200.81 L246.74 1200.74 L247.08 1200.69 L247.41 1200.65 L247.75 1200.63 L248.09 1200.60 L248.44 1200.59 L248.80 1200.57 L249.18 1200.55 L249.58 1200.53 L250.00 1200.50 L250.69 1200.45 L251.43 1200.42 L252.21 1200.40 L253.03 1200.39 L253.88 1200.38 L254.75 1200.36 L255.63 1200.34 L256.52 1200.31 L257.41 1200.27 L258.29 1200.20 L259.16 1200.12 L260.00 1200.00 L260.82 1199.85 L261.61 1199.68 L262.38 1199.49 L263.14 1199.28 L263.90 1199.05 L264.67 1198.81 L265.45 1198.57 L266.27 1198.31 L267.12 1198.06 L268.02 1197.80 L268.97 1197.55 L270.00 1197.30 L271.93 1196.87 L274.06 1196.43 L276.36 1195.97 L278.80 1195.50 L281.35 1195.02 L283.98 1194.53 L286.67 1194.05 L289.39 1193.56 L292.12 1193.08 L294.81 1192.61 L297.45 1192.15 L300.00 1191.70 L302.50 1191.25 L304.99 1190.77 L307.49 1190.28 L309.99 1189.78 L312.49 1189.29 L314.98 1188.81 L317.48 1188.36 L319.98 1187.94 L322.49 1187.56 L324.99 1187.24 L327.49 1186.98 L330.00 1186.80 L332.49 1186.69 L334.99 1186.65 L337.49 1186.66 L339.99 1186.73 L342.49 1186.83 L344.99 1186.98 L347.50 1187.15 L350.00 1187.35 L352.50 1187.56 L355.00 1187.77 L357.50 1187.99 L360.00 1188.20 L362.50 1188.42 L365.00 1188.69 L367.50 1188.98 L370.00 1189.29 L372.50 1189.62 L375.00 1189.95 L377.50 1190.28 L380.00 1190.61 L382.50 1190.92 L385.00 1191.21 L387.50 1191.48 L390.00 1191.70 L392.50 1191.90 L395.00 1192.08 L397.49 1192.26 L399.99 1192.41 L402.49 1192.56 L404.99 1192.69 L407.50 1192.80 L410.00 1192.90 L412.50 1192.97 L415.00 1193.04 L417.50 1193.08 L420.00 1193.10 L422.50 1193.10 L425.00 1193.07 L427.50 1193.01 L430.00 1192.94 L432.50 1192.85 L435.00 1192.74 L437.50 1192.63 L440.00 1192.50 L442.50 1192.38 L445.00 1192.25 L447.50 1192.12 L450.00 1192.00 L452.49 1191.87 L454.95 1191.73 L457.40 1191.58 L459.84 1191.41 L462.28 1191.25 L464.73 1191.08 L467.19 1190.92 L469.68 1190.76 L472.20 1190.62 L474.75 1190.49 L477.35 1190.38 L480.00 1190.30 L483.13 1190.23 L486.33 1190.20 L489.59 1190.18 L492.91 1190.18 L496.26 1190.20 L499.64 1190.24 L503.04 1190.28 L506.45 1190.33 L509.86 1190.37 L513.27 1190.42 L516.65 1190.47 L520.00 1190.50 L523.27 1190.53 L526.45 1190.57 L529.57 1190.61 L532.65 1190.66 L535.73 1190.71 L538.84 1190.76 L542.02 1190.80 L545.29 1190.85 L548.70 1190.89 L552.26 1190.94 L556.02 1190.97 L560.00 1191.00 L566.90 1191.03 L574.38 1191.06 L582.35 1191.07 L590.74 1191.07 L599.46 1191.07 L608.42 1191.06 L617.55 1191.05 L626.77 1191.04 L635.98 1191.02 L645.12 1191.01 L654.08 1191.00 L662.80 1191.00" fill="none" stroke="#0000ff" stroke-width="2.61" stroke-dasharray="6.4 2.3" stroke-linejoin="round"/>
<path d="M70.40 1191.00 L188.20 1191.00 L188.22 1179.14 L188.23 1167.09 L188.24 1154.93 L188.25 1142.70 L188.27 1130.47 L188.28 1118.30 L188.29 1106.26 L188.31 1094.40 L188.33 1082.78 L188.35 1071.46 L188.37 1060.52 L188.40 1050.00 L188.43 1042.14 L188.45 1034.53 L188.48 1027.15 L188.52 1019.96 L188.55 1012.91 L188.59 1005.97 L188.62 999.10 L188.66 992.28 L188.69 985.45 L188.73 978.59 L188.77 971.65 L188.80 964.60 L188.94 970.00 L189.09 975.30 L189.23 980.55 L189.37 985.77 L189.52 990.99 L189.66 996.24 L189.81 1001.55 L189.95 1006.95 L190.09 1012.46 L190.23 1018.12 L190.37 1023.96 L190.50 1030.00 L190.67 1038.19 L190.84 1046.75 L191.01 1055.62 L191.18 1064.75 L191.34 1074.08 L191.51 1083.55 L191.66 1093.10 L191.82 1102.67 L191.97 1112.20 L192.12 1121.64 L192.26 1130.93 L192.40 1140.00 L192.52 1148.70 L192.64 1157.66 L192.75 1166.78 L192.85 1175.97 L192.95 1185.12 L193.05 1194.15 L193.15 1202.94 L193.25 1211.41 L193.35 1219.44 L193.46 1226.95 L193.57 1233.84 L193.70 1240.00 L193.77 1242.97 L193.83 1245.79 L193.89 1248.46 L193.95 1251.01 L194.01 1253.43 L194.08 1255.74 L194.15 1257.96 L194.22 1260.09 L194.30 1262.15 L194.39 1264.15 L194.49 1266.09 L194.60 1268.00 L194.68 1269.34 L194.77 1270.75 L194.86 1272.21 L194.96 1273.66 L195.06 1275.08 L195.16 1276.43 L195.27 1277.68 L195.37 1278.77 L195.48 1279.69 L195.59 1280.39 L195.69 1280.84 L195.80 1281.00 L195.90 1280.87 L196.00 1280.50 L196.10 1279.93 L196.21 1279.17 L196.31 1278.25 L196.42 1277.22 L196.52 1276.08 L196.62 1274.89 L196.72 1273.65 L196.82 1272.40 L196.91 1271.18 L197.00 1270.00 L197.14 1268.01 L197.26 1265.82 L197.38 1263.48 L197.49 1260.99 L197.59 1258.41 L197.69 1255.75 L197.78 1253.06 L197.87 1250.35 L197.95 1247.65 L198.04 1245.01 L198.12 1242.45 L198.20 1240.00 L198.27 1237.85 L198.34 1235.75 L198.40 1233.69 L198.45 1231.65 L198.51 1229.63 L198.56 1227.62 L198.61 1225.60 L198.67 1223.56 L198.72 1221.49 L198.78 1219.38 L198.84 1217.22 L198.90 1215.00 L198.98 1212.28 L199.07 1209.46 L199.15 1206.57 L199.24 1203.62 L199.34 1200.64 L199.43 1197.62 L199.53 1194.60 L199.62 1191.60 L199.72 1188.61 L199.81 1185.68 L199.91 1182.80 L200.00 1180.00 L200.08 1177.53 L200.16 1175.06 L200.24 1172.60 L200.32 1170.15 L200.40 1167.72 L200.48 1165.32 L200.56 1162.96 L200.64 1160.64 L200.72 1158.38 L200.81 1156.18 L200.90 1154.05 L201.00 1152.00 L201.07 1150.48 L201.14 1148.96 L201.21 1147.45 L201.28 1145.97 L201.34 1144.52 L201.42 1143.10 L201.49 1141.74 L201.58 1140.43 L201.67 1139.20 L201.77 1138.04 L201.88 1136.97 L202.00 1136.00 L202.07 1135.50 L202.15 1134.98 L202.22 1134.47 L202.30 1133.96 L202.39 1133.47 L202.47 1133.01 L202.56 1132.60 L202.64 1132.23 L202.73 1131.93 L202.82 1131.70 L202.91 1131.55 L203.00 1131.50 L203.08 1131.54 L203.16 1131.65 L203.25 1131.82 L203.34 1132.05 L203.42 1132.33 L203.51 1132.65 L203.60 1133.00 L203.69 1133.38 L203.77 1133.78 L203.85 1134.19 L203.93 1134.60 L204.00 1135.00 L204.14 1135.86 L204.26 1136.80 L204.36 1137.84 L204.46 1138.95 L204.55 1140.13 L204.63 1141.39 L204.70 1142.70 L204.78 1144.07 L204.85 1145.49 L204.93 1146.96 L205.01 1148.46 L205.10 1150.00 L205.25 1152.70 L205.40 1155.69 L205.54 1158.92 L205.69 1162.35 L205.84 1165.90 L205.98 1169.54 L206.13 1173.20 L206.28 1176.83 L206.43 1180.38 L206.59 1183.80 L206.74 1187.02 L206.90 1190.00 L207.02 1192.09 L207.13 1194.16 L207.24 1196.19 L207.35 1198.18 L207.45 1200.12 L207.57 1202.02 L207.68 1203.86 L207.81 1205.63 L207.94 1207.34 L208.08 1208.97 L208.23 1210.53 L208.40 1212.00 L208.51 1212.95 L208.63 1213.94 L208.74 1214.95 L208.86 1215.96 L208.99 1216.93 L209.11 1217.86 L209.25 1218.71 L209.38 1219.46 L209.53 1220.09 L209.68 1220.57 L209.83 1220.88 L210.00 1221.00 L210.15 1220.94 L210.30 1220.75 L210.47 1220.44 L210.64 1220.03 L210.82 1219.54 L211.00 1218.98 L211.18 1218.36 L211.35 1217.71 L211.53 1217.03 L211.69 1216.34 L211.85 1215.66 L212.00 1215.00 L212.23 1213.83 L212.44 1212.50 L212.63 1211.06 L212.80 1209.52 L212.96 1207.91 L213.12 1206.25 L213.27 1204.59 L213.42 1202.94 L213.57 1201.32 L213.74 1199.78 L213.91 1198.33 L214.10 1197.00 L214.25 1196.09 L214.40 1195.19 L214.55 1194.32 L214.71 1193.46 L214.87 1192.62 L215.03 1191.81 L215.19 1191.03 L215.35 1190.26 L215.52 1189.53 L215.68 1188.82 L215.84 1188.15 L216.00 1187.50 L216.10 1187.07 L216.20 1186.64 L216.29 1186.20 L216.37 1185.77 L216.46 1185.36 L216.55 1184.96 L216.64 1184.58 L216.75 1184.24 L216.86 1183.94 L216.99 1183.67 L217.14 1183.46 L217.30 1183.30 L217.41 1183.23 L217.52 1183.17 L217.65 1183.13 L217.78 1183.09 L217.91 1183.07 L218.04 1183.06 L218.18 1183.07 L218.31 1183.09 L218.44 1183.12 L218.57 1183.16 L218.69 1183.22 L218.80 1183.30 L219.01 1183.53 L219.20 1183.86 L219.37 1184.29 L219.51 1184.78 L219.65 1185.34 L219.77 1185.95 L219.89 1186.60 L220.00 1187.28 L220.11 1187.97 L220.23 1188.66 L220.36 1189.34 L220.50 1190.00 L220.70 1190.89 L220.89 1191.84 L221.09 1192.85 L221.29 1193.89 L221.49 1194.95 L221.69 1196.03 L221.90 1197.11 L222.10 1198.17 L222.32 1199.20 L222.54 1200.19 L222.77 1201.13 L223.00 1202.00 L223.17 1202.64 L223.34 1203.31 L223.51 1203.99 L223.69 1204.67 L223.86 1205.34 L224.04 1205.98 L224.22 1206.58 L224.41 1207.11 L224.62 1207.56 L224.83 1207.92 L225.06 1208.17 L225.30 1208.30 L225.49 1208.31 L225.68 1208.26 L225.89 1208.16 L226.10 1208.01 L226.32 1207.83 L226.54 1207.61 L226.76 1207.37 L226.98 1207.10 L227.20 1206.83 L227.41 1206.55 L227.61 1206.27 L227.80 1206.00 L228.04 1205.60 L228.26 1205.14 L228.46 1204.63 L228.65 1204.09 L228.83 1203.52 L229.01 1202.94 L229.19 1202.37 L229.38 1201.81 L229.58 1201.28 L229.79 1200.79 L230.03 1200.36 L230.30 1200.00 L230.51 1199.77 L230.73 1199.55 L230.96 1199.34 L231.20 1199.14 L231.44 1198.95 L231.69 1198.78 L231.94 1198.64 L232.20 1198.52 L232.45 1198.42 L232.71 1198.35 L232.95 1198.31 L233.20 1198.30 L233.46 1198.34 L233.71 1198.42 L233.97 1198.54 L234.22 1198.70 L234.47 1198.89 L234.73 1199.10 L234.99 1199.33 L235.24 1199.56 L235.50 1199.81 L235.77 1200.05 L236.03 1200.28 L236.30 1200.50 L236.62 1200.78 L236.95 1201.10 L237.27 1201.45 L237.60 1201.82 L237.93 1202.20 L238.27 1202.57 L238.61 1202.93 L238.95 1203.25 L239.30 1203.53 L239.66 1203.76 L240.03 1203.92 L240.40 1204.00 L240.81 1203.98 L241.23 1203.87 L241.66 1203.68 L242.10 1203.42 L242.55 1203.11 L243.00 1202.77 L243.46 1202.42 L243.91 1202.06 L244.37 1201.73 L244.82 1201.43 L245.26 1201.18 L245.70 1201.00 L246.06 1200.89 L246.40 1200.81 L246.74 1200.74 L247.08 1200.69 L247.41 1200.65 L247.75 1200.63 L248.09 1200.60 L248.44 1200.59 L248.80 1200.57 L249.18 1200.55 L249.58 1200.53 L250.00 1200.50 L250.69 1200.45 L251.43 1200.42 L252.21 1200.40 L253.03 1200.39 L253.88 1200.38 L254.75 1200.36 L255.63 1200.34 L256.52 1200.31 L257.41 1200.27 L258.29 1200.20 L259.16 1200.12 L260.00 1200.00 L260.82 1199.85 L261.61 1199.68 L262.38 1199.49 L263.14 1199.28 L263.90 1199.05 L264.67 1198.81 L265.45 1198.57 L266.27 1198.31 L267.12 1198.06 L268.02 1197.80 L268.97 1197.55 L270.00 1197.30 L271.93 1196.87 L274.06 1196.43 L276.36 1195.97 L278.80 1195.50 L281.35 1195.02 L283.98 1194.53 L286.67 1194.05 L289.39 1193.56 L292.12 1193.08 L294.81 1192.61 L297.45 1192.15 L300.00 1191.70 L302.50 1191.25 L304.99 1190.77 L307.49 1190.28 L309.99 1189.78 L312.49 1189.29 L314.98 1188.81 L317.48 1188.36 L319.98 1187.94 L322.49 1187.56 L324.99 1187.24 L327.49 1186.98 L330.00 1186.80 L332.49 1186.69 L334.99 1186.65 L337.49 1186.66 L339.99 1186.73 L342.49 1186.83 L344.99 1186.98 L347.50 1187.15 L350.00 1187.35 L352.50 1187.56 L355.00 1187.77 L357.50 1187.99 L360.00 1188.20 L362.50 1188.42 L365.00 1188.69 L367.50 1188.98 L370.00 1189.29 L372.50 1189.62 L375.00 1189.95 L377.50 1190.28 L380.00 1190.61 L382.50 1190.92 L385.00 1191.21 L387.50 1191.48 L390.00 1191.70 L392.50 1191.90 L395.00 1192.08 L397.49 1192.26 L399.99 1192.41 L402.49 1192.56 L404.99 1192.69 L407.50 1192.80 L410.00 1192.90 L412.50 1192.97 L415.00 1193.04 L417.50 1193.08 L420.00 1193.10 L422.50 1193.10 L425.00 1193.07 L427.50 1193.01 L430.00 1192.94 L432.50 1192.85 L435.00 1192.74 L437.50 1192.63 L440.00 1192.50 L442.50 1192.38 L445.00 1192.25 L447.50 1192.12 L450.00 1192.00 L452.49 1191.87 L454.95 1191.73 L457.40 1191.58 L459.84 1191.41 L462.28 1191.25 L464.73 1191.08 L467.19 1190.92 L469.68 1190.76 L472.20 1190.62 L474.75 1190.49 L477.35 1190.38 L480.00 1190.30 L483.13 1190.23 L486.33 1190.20 L489.59 1190.18 L492.91 1190.18 L496.26 1190.20 L499.64 1190.24 L503.04 1190.28 L506.45 1190.33 L509.86 1190.37 L513.27 1190.42 L516.65 1190.47 L520.00 1190.50 L523.27 1190.53 L526.45 1190.57 L529.57 1190.61 L532.65 1190.66 L535.73 1190.71 L538.84 1190.76 L542.02 1190.80 L545.29 1190.85 L548.70 1190.89 L552.26 1190.94 L556.02 1190.97 L560.00 1191.00 L566.90 1191.03 L574.38 1191.06 L582.35 1191.07 L590.74 1191.07 L599.46 1191.07 L608.42 1191.06 L617.55 1191.05 L626.77 1191.04 L635.98 1191.02 L645.12 1191.01 L654.08 1191.00 L662.80 1191.00" fill="none" stroke="#ff0000" stroke-width="2.44" stroke-dasharray="2.3 2.5" stroke-linejoin="round"/>
<rect x="70" y="955" width="593" height="1" fill="#c2c2c2"/>
<rect x="70" y="1291" width="593" height="1" fill="#b0b0b0"/>
<rect x="70" y="955" width="1" height="337" fill="#bdbdbd"/>
<rect x="662" y="955" width="2" height="337" fill="#ececec"/>
<text x="65.3" y="961.8" text-anchor="end" style="font-family:'Liberation Serif',serif;font-size:16px;fill:#3c3c3c">1.4</text>
<text x="65.3" y="995.4" text-anchor="end" style="font-family:'Liberation Serif',serif;font-size:16px;fill:#3c3c3c">1.2</text>
<text x="65.3" y="1029.1" text-anchor="end" style="font-family:'Liberation Serif',serif;font-size:16px;fill:#3c3c3c">1</text>
<text x="65.3" y="1062.7" text-anchor="end" style="font-family:'Liberation Serif',serif;font-size:16px;fill:#3c3c3c">0.8</text>
<text x="65.3" y="1096.3" text-anchor="end" style="font-family:'Liberation Serif',serif;font-size:16px;fill:#3c3c3c">0.6</text>
<text x="65.3" y="1129.9" text-anchor="end" style="font-family:'Liberation Serif',serif;font-size:16px;fill:#3c3c3c">0.4</text>
<text x="65.3" y="1163.6" text-anchor="end" style="font-family:'Liberation Serif',serif;font-size:16px;fill:#3c3c3c">0.2</text>
<text x="65.3" y="1197.2" text-anchor="end" style="font-family:'Liberation Serif',serif;font-size:16px;fill:#3c3c3c">0</text>
<text x="65.3" y="1230.8" text-anchor="end" style="font-family:'Liberation Serif',serif;font-size:16px;fill:#3c3c3c">-0.2</text>
<text x="65.3" y="1264.5" text-anchor="end" style="font-family:'Liberation Serif',serif;font-size:16px;fill:#3c3c3c">-0.4</text>
<text x="65.3" y="1298.1" text-anchor="end" style="font-family:'Liberation Serif',serif;font-size:16px;fill:#3c3c3c">-0.6</text>
<text x="70.4" y="1312.2" text-anchor="middle" style="font-family:'Liberation Serif',serif;font-size:16px;fill:#3c3c3c">0</text>
<text x="129.6" y="1312.2" text-anchor="middle" style="font-family:'Liberation Serif',serif;font-size:16px;fill:#3c3c3c">0.5</text>
<text x="188.9" y="1312.2" text-anchor="middle" style="font-family:'Liberation Serif',serif;font-size:16px;fill:#3c3c3c">1</text>
<text x="248.1" y="1312.2" text-anchor="middle" style="font-family:'Liberation Serif',serif;font-size:16px;fill:#3c3c3c">1.5</text>
<text x="307.4" y="1312.2" text-anchor="middle" style="font-family:'Liberation Serif',serif;font-size:16px;fill:#3c3c3c">2</text>
<text x="366.6" y="1312.2" text-anchor="middle" style="font-family:'Liberation Serif',serif;font-size:16px;fill:#3c3c3c">2.5</text>
<text x="425.8" y="1312.2" text-anchor="middle" style="font-family:'Liberation Serif',serif;font-size:16px;fill:#3c3c3c">3</text>
<text x="485.1" y="1312.2" text-anchor="middle" style="font-family:'Liberation Serif',serif;font-size:16px;fill:#3c3c3c">3.5</text>
<text x="544.3" y="1312.2" text-anchor="middle" style="font-family:'Liberation Serif',serif;font-size:16px;fill:#3c3c3c">4</text>
<text x="603.6" y="1312.2" text-anchor="middle" style="font-family:'Liberation Serif',serif;font-size:16px;fill:#3c3c3c">4.5</text>
<text x="662.8" y="1312.2" text-anchor="middle" style="font-family:'Liberation Serif',serif;font-size:16px;fill:#3c3c3c">5</text>
<text x="366.6" y="1331.7" text-anchor="middle" style="font-family:'Liberation Serif',serif;font-size:18.7px;fill:#3c3c3c">Time(s)</text>
<rect x="555" y="961" width="102" height="56" fill="#fff"/>
<rect x="555" y="961" width="102" height="1" fill="#a8a8a8"/>
<rect x="555" y="1016" width="102" height="1" fill="#c4c4c4"/>
<rect x="555" y="961" width="1" height="56" fill="#959595"/>
<rect x="656" y="961" width="1" height="56" fill="#a8a8a8"/>
<line x1="557.6" y1="971.6" x2="581.3" y2="971.6" stroke="#00ff00" stroke-width="2.6"/>
<line x1="557.6" y1="989.1" x2="581.3" y2="989.1" stroke="#0000ff" stroke-width="2.6" stroke-dasharray="9.4 2 5.3 2"/>
<line x1="557.6" y1="1006.6" x2="581.3" y2="1006.6" stroke="#ff0000" stroke-width="2.6" stroke-dasharray="2.4 2.4"/>
<text y="975.6" style="font-family:'Liberation Serif',serif;font-size:15px;fill:#3c3c3c"><tspan x="583" font-style="italic">ζ</tspan><tspan x="595.3" font-size="17px">=</tspan><tspan x="609.8" letter-spacing="0.7">0</tspan></text>
<text y="993.1" style="font-family:'Liberation Serif',serif;font-size:15px;fill:#3c3c3c"><tspan x="583.6" font-style="italic" font-size="16.5px">L</tspan><tspan x="593.3" font-size="10.5px" dy="2.5">0</tspan><tspan x="599.4" dy="-2.5" font-size="16.5px">(</tspan><tspan x="603.8" font-style="italic">ζ</tspan><tspan x="615.8" font-size="17px">=</tspan><tspan x="631" letter-spacing="0.4">0.1</tspan><tspan x="649" font-size="16.5px">)</tspan></text>
<text y="1010.6" style="font-family:'Liberation Serif',serif;font-size:15px;fill:#3c3c3c"><tspan x="583.6" font-style="italic" font-size="16.5px">L</tspan><tspan x="593.3" font-size="10.5px" dy="2.5">0</tspan><tspan x="599.4" dy="-2.5" font-size="16.5px">(</tspan><tspan x="603.8" font-style="italic">ζ</tspan><tspan x="615.8" font-size="17px">=</tspan><tspan x="631" letter-spacing="0.4">0.2</tspan><tspan x="649" font-size="16.5px">)</tspan></text>
<text transform="translate(43.5 183.2) rotate(-90)" text-anchor="middle" style="font-family:'Liberation Serif',serif;font-size:18.7px;fill:#3c3c3c"><tspan font-style="italic" letter-spacing="-0.4">Acceleration</tspan><tspan letter-spacing="0.6">(m/s</tspan><tspan font-size="12px" dy="-7">2</tspan><tspan dy="7">)</tspan></text>
<text transform="translate(23 653.6) rotate(-90)" text-anchor="middle" style="font-family:'Liberation Serif',serif;font-size:18.7px;fill:#3c3c3c"><tspan font-style="italic">Deflection</tspan>(m)</text>
<text transform="translate(31 1122.5) rotate(-90)" text-anchor="middle" style="font-family:'Liberation Serif',serif;font-size:18.7px;font-style:italic;fill:#3c3c3c">Relative Dynamic Load</text>
<text x="344.2" y="424.8" text-anchor="middle" style="font-family:'Liberation Serif',serif;font-size:22.5px;fill:#141414">(a) Body acceleration response</text>
<text x="341.4" y="894.2" text-anchor="middle" style="font-family:'Liberation Serif',serif;font-size:22.7px;fill:#141414">(b) Suspension dynamic deflection response</text>
<text x="342.2" y="1363.4" text-anchor="middle" style="font-family:'Liberation Serif',serif;font-size:22.55px;fill:#141414">(c) Wheel relative dynamic load response</text>
<rect x="440.5" y="122.7" width="161.60000000000002" height="84.60000000000001" fill="#fff"/>
<line x1="461.5" y1="207.3" x2="461.5" y2="204.3" stroke="#bbb" stroke-width="1"/>
<line x1="461.5" y1="122.7" x2="461.5" y2="125.7" stroke="#bbb" stroke-width="1"/>
<text x="461.8" y="226.6" text-anchor="middle" style="font-family:'Liberation Serif',serif;font-size:16px;fill:#3c3c3c">2.1</text>
<line x1="495.5" y1="207.3" x2="495.5" y2="204.3" stroke="#bbb" stroke-width="1"/>
<line x1="495.5" y1="122.7" x2="495.5" y2="125.7" stroke="#bbb" stroke-width="1"/>
<text x="495.6" y="226.6" text-anchor="middle" style="font-family:'Liberation Serif',serif;font-size:16px;fill:#3c3c3c">2.2</text>
<line x1="529.5" y1="207.3" x2="529.5" y2="204.3" stroke="#bbb" stroke-width="1"/>
<line x1="529.5" y1="122.7" x2="529.5" y2="125.7" stroke="#bbb" stroke-width="1"/>
<text x="529.3" y="226.6" text-anchor="middle" style="font-family:'Liberation Serif',serif;font-size:16px;fill:#3c3c3c">2.3</text>
<line x1="563.5" y1="207.3" x2="563.5" y2="204.3" stroke="#bbb" stroke-width="1"/>
<line x1="563.5" y1="122.7" x2="563.5" y2="125.7" stroke="#bbb" stroke-width="1"/>
<text x="563.1" y="226.6" text-anchor="middle" style="font-family:'Liberation Serif',serif;font-size:16px;fill:#3c3c3c">2.4</text>
<line x1="596.5" y1="207.3" x2="596.5" y2="204.3" stroke="#bbb" stroke-width="1"/>
<line x1="596.5" y1="122.7" x2="596.5" y2="125.7" stroke="#bbb" stroke-width="1"/>
<text x="596.9" y="226.6" text-anchor="middle" style="font-family:'Liberation Serif',serif;font-size:16px;fill:#3c3c3c">2.5</text>
<line x1="440.5" y1="189.5" x2="443.5" y2="189.5" stroke="#bbb" stroke-width="1"/>
<line x1="599.1" y1="189.5" x2="602.1" y2="189.5" stroke="#bbb" stroke-width="1"/>
<text x="434.6" y="195.0" text-anchor="end" style="font-family:'Liberation Serif',serif;font-size:16.5px;fill:#3c3c3c">0</text>
<line x1="440.5" y1="170.5" x2="443.5" y2="170.5" stroke="#bbb" stroke-width="1"/>
<line x1="599.1" y1="170.5" x2="602.1" y2="170.5" stroke="#bbb" stroke-width="1"/>
<text x="434.6" y="176.5" text-anchor="end" style="font-family:'Liberation Serif',serif;font-size:16.5px;fill:#3c3c3c">0.2</text>
<line x1="440.5" y1="152.5" x2="443.5" y2="152.5" stroke="#bbb" stroke-width="1"/>
<line x1="599.1" y1="152.5" x2="602.1" y2="152.5" stroke="#bbb" stroke-width="1"/>
<text x="434.6" y="158.0" text-anchor="end" style="font-family:'Liberation Serif',serif;font-size:16.5px;fill:#3c3c3c">0.4</text>
<line x1="440.5" y1="133.5" x2="443.5" y2="133.5" stroke="#bbb" stroke-width="1"/>
<line x1="599.1" y1="133.5" x2="602.1" y2="133.5" stroke="#bbb" stroke-width="1"/>
<text x="434.6" y="139.4" text-anchor="end" style="font-family:'Liberation Serif',serif;font-size:16.5px;fill:#3c3c3c">0.6</text>
<path d="M440.50 170.60 L443.75 169.68 L446.98 168.75 L450.22 167.82 L453.47 166.90 L456.73 166.02 L460.00 165.20 L463.31 164.42 L466.63 163.67 L469.97 162.96 L473.31 162.28 L476.65 161.66 L480.00 161.10 L483.32 160.58 L486.65 160.10 L489.99 159.67 L493.32 159.30 L496.66 159.01 L500.00 158.80 L503.33 158.69 L506.66 158.65 L510.00 158.70 L513.34 158.81 L516.67 158.98 L520.00 159.20 L523.34 159.49 L526.68 159.85 L530.01 160.27 L533.35 160.74 L536.67 161.26 L540.00 161.80 L543.34 162.38 L546.68 163.00 L550.02 163.66 L553.35 164.36 L556.68 165.11 L560.00 165.90 L563.41 166.77 L566.90 167.72 L570.39 168.71 L573.79 169.71 L577.02 170.68 L580.00 171.60 L582.03 172.25 L583.92 172.87 L585.71 173.49 L587.46 174.09 L589.20 174.69 L591.00 175.30 L592.83 175.91 L594.67 176.51 L596.50 177.11 L598.33 177.70 L600.17 178.30 L602.00 178.90" fill="none" stroke="#00ff00" stroke-width="2"/>
<path d="M440.50 169.80 L443.75 168.99 L446.99 168.17 L450.23 167.35 L453.48 166.55 L456.73 165.76 L460.00 165.00 L463.31 164.24 L466.63 163.49 L469.97 162.75 L473.31 162.05 L476.65 161.43 L480.00 160.90 L483.32 160.47 L486.65 160.11 L489.99 159.82 L493.32 159.59 L496.66 159.42 L500.00 159.30 L503.33 159.23 L506.67 159.20 L510.01 159.23 L513.34 159.34 L516.67 159.52 L520.00 159.80 L523.34 160.20 L526.68 160.70 L530.02 161.30 L533.35 161.94 L536.67 162.62 L540.00 163.30 L543.34 164.00 L546.68 164.74 L550.01 165.51 L553.34 166.30 L556.67 167.10 L560.00 167.90 L563.41 168.70 L566.90 169.51 L570.38 170.33 L573.79 171.15 L577.02 171.98 L580.00 172.80 L582.03 173.41 L583.92 174.01 L585.72 174.62 L587.47 175.23 L589.21 175.86 L591.00 176.50 L592.84 177.17 L594.67 177.86 L596.51 178.57 L598.34 179.28 L600.17 179.99 L602.00 180.70" fill="none" stroke="#0000ff" stroke-width="2" stroke-dasharray="4 1.6"/>
<path d="M440.50 169.10 L443.75 168.40 L446.99 167.68 L450.23 166.96 L453.47 166.26 L456.73 165.60 L460.00 165.00 L463.31 164.44 L466.64 163.89 L469.97 163.39 L473.31 162.95 L476.66 162.58 L480.00 162.30 L483.33 162.13 L486.66 162.05 L490.00 162.04 L493.33 162.09 L496.67 162.18 L500.00 162.30 L503.34 162.44 L506.67 162.62 L510.01 162.85 L513.34 163.11 L516.67 163.43 L520.00 163.80 L523.34 164.23 L526.68 164.72 L530.01 165.26 L533.35 165.85 L536.67 166.46 L540.00 167.10 L543.34 167.76 L546.68 168.44 L550.02 169.16 L553.36 169.91 L556.68 170.73 L560.00 171.60 L563.42 172.59 L566.91 173.68 L570.39 174.82 L573.79 175.97 L577.02 177.08 L580.00 178.10 L582.03 178.79 L583.92 179.45 L585.71 180.08 L587.46 180.71 L589.21 181.34 L591.00 182.00 L592.84 182.68 L594.67 183.38 L596.50 184.08 L598.34 184.79 L600.17 185.50 L602.00 186.20" fill="none" stroke="#ff0000" stroke-width="1.5" stroke-dasharray="1.5 1.4"/>
<line x1="440.5" y1="122.7" x2="440.5" y2="207.3" stroke="#c4c4c4" stroke-width="1"/>
<line x1="440.0" y1="122.5" x2="602.6" y2="122.5" stroke="#9a9a9a" stroke-width="1.2"/>
<line x1="602.1" y1="122.7" x2="602.1" y2="207.3" stroke="#a0a0a0" stroke-width="1.1"/>
<line x1="440.0" y1="207.3" x2="602.6" y2="207.3" stroke="#a8a8a8" stroke-width="1.1"/>
<rect x="317.6" y="262.6" width="52.7" height="32.1" fill="none" stroke="#000" stroke-width="1.4"/>
<line x1="373.8" y1="256.9" x2="426" y2="218.3" stroke="#000" stroke-width="1.4"/>
<path d="M430.8 214.8 L421.6 216.6 L425.2 219.0 L426.2 223.3 Z" fill="#000"/>
</svg>
</body></html>
